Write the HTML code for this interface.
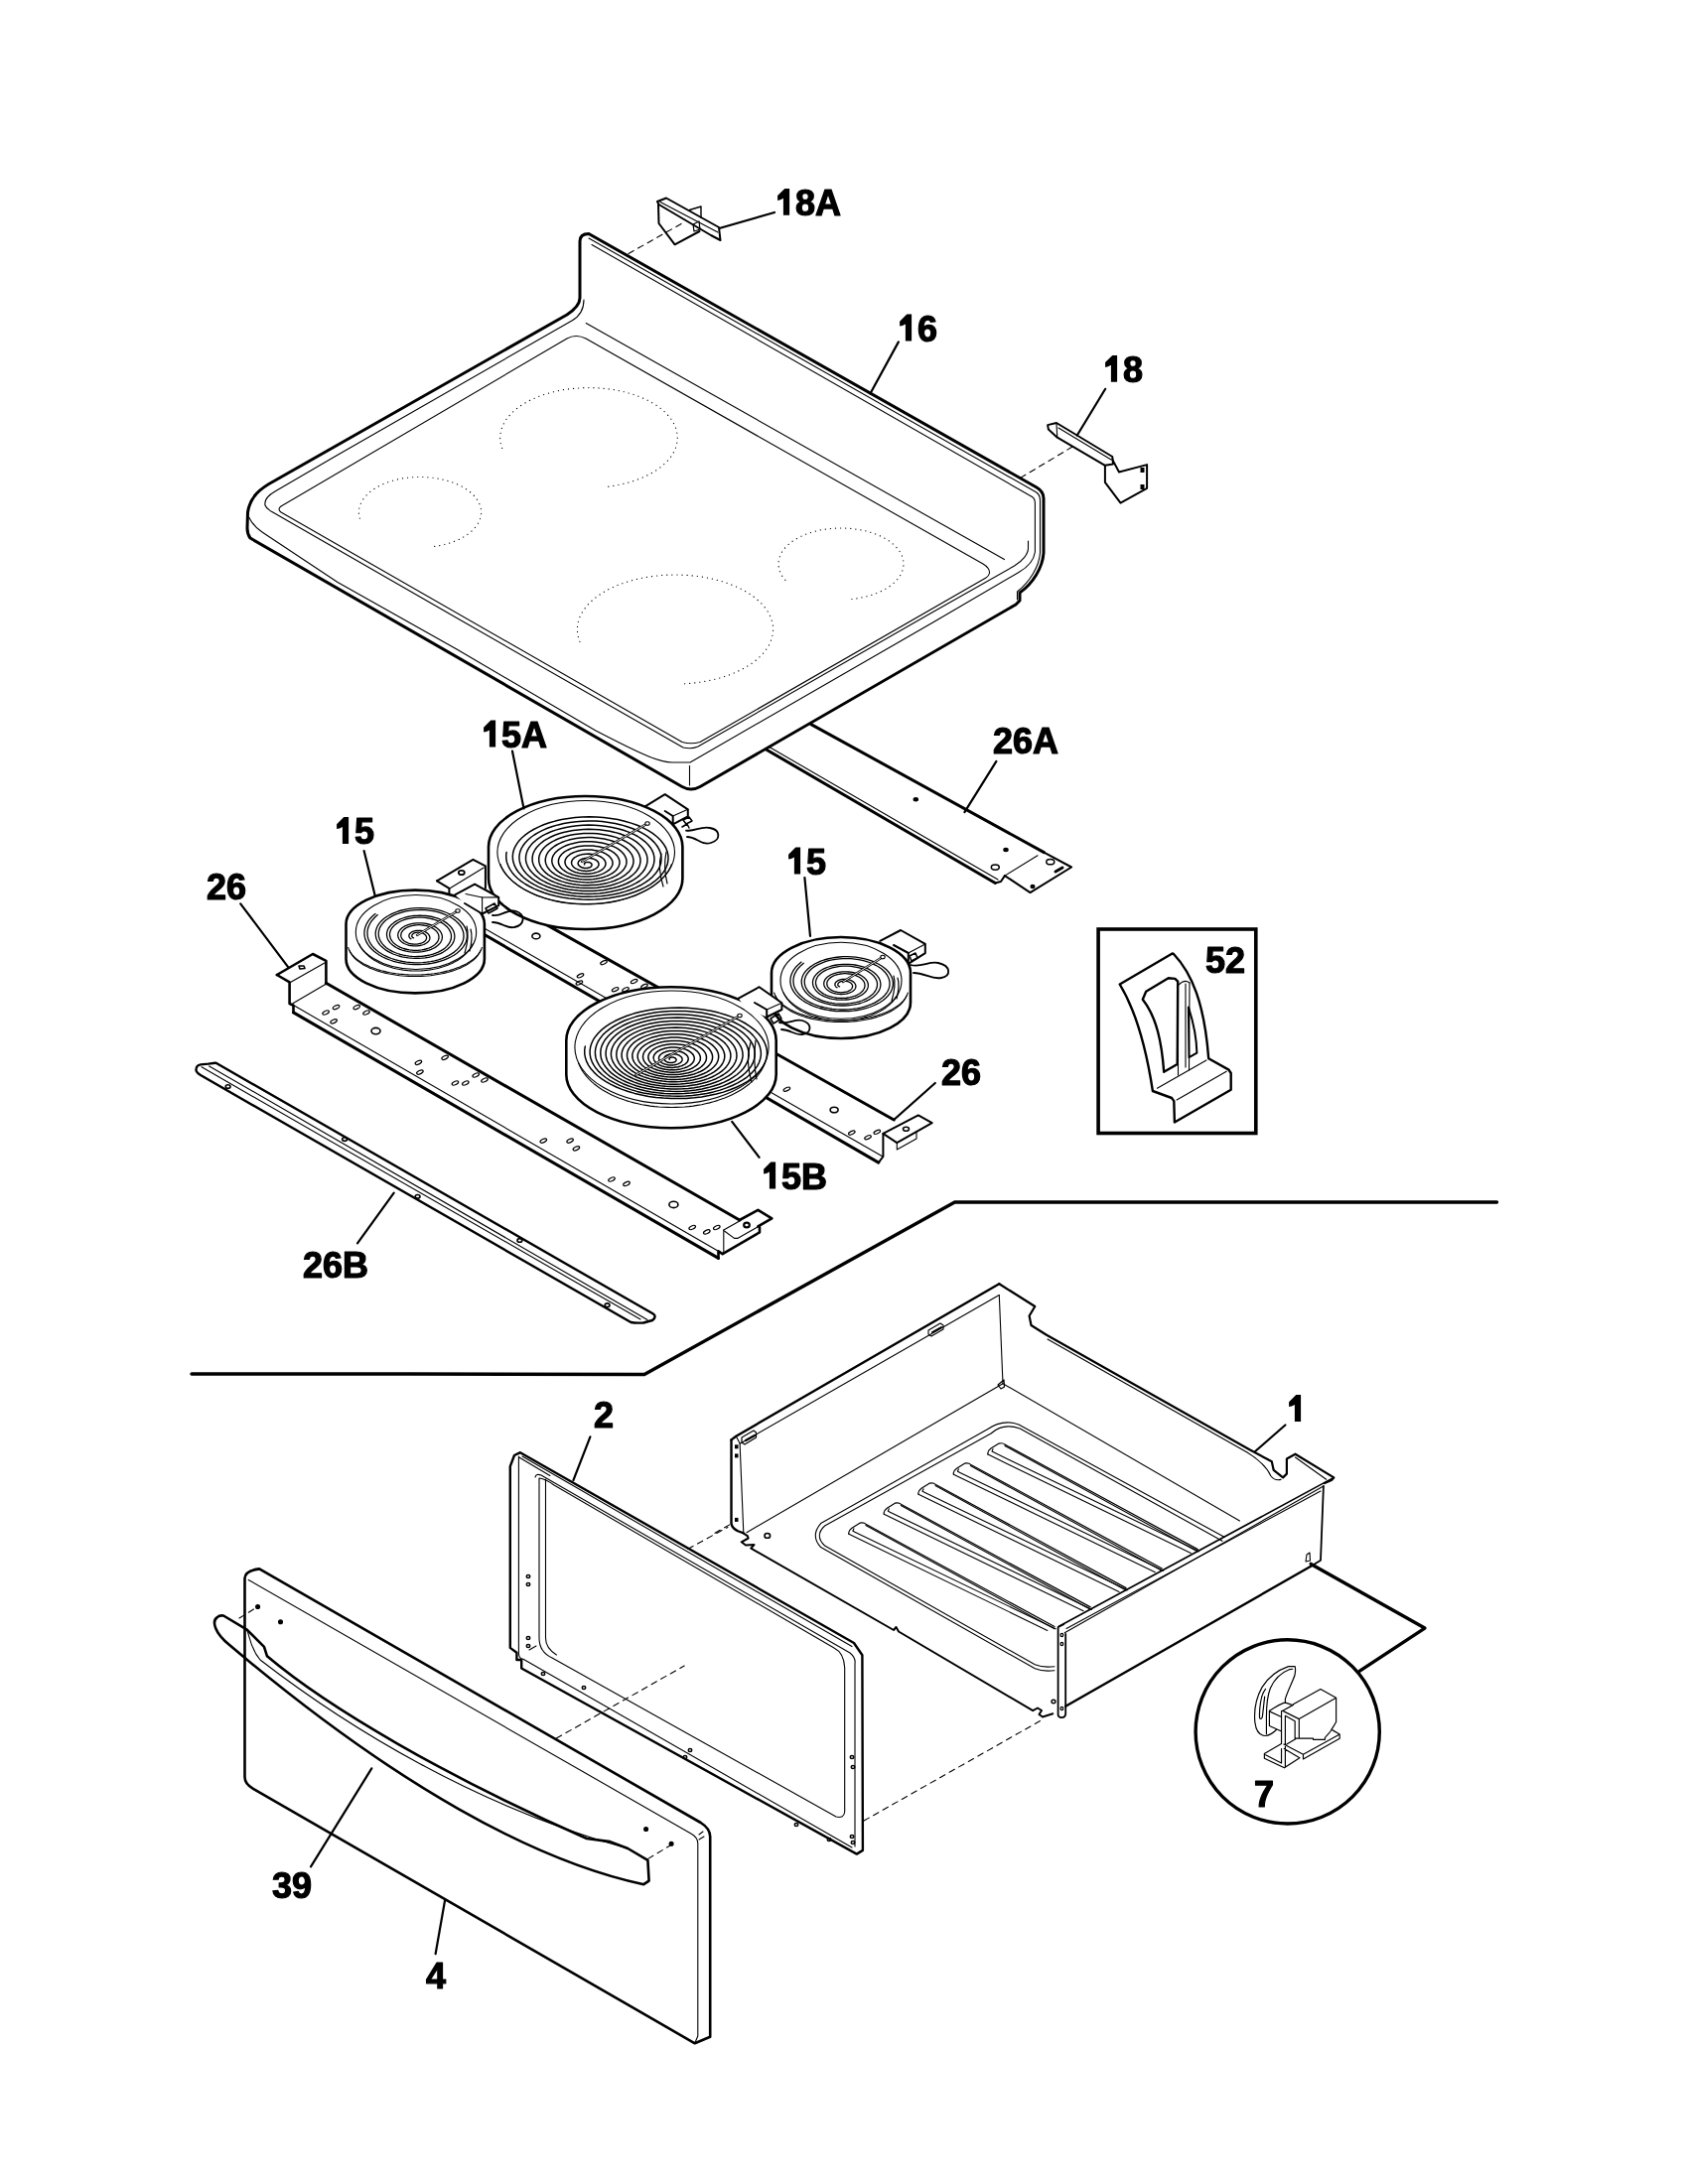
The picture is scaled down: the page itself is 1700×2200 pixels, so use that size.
<!DOCTYPE html><html><head><meta charset="utf-8"><style>html,body{margin:0;padding:0;background:#fff;}svg{display:block;will-change:transform;}text{font-family:"Liberation Sans",sans-serif;font-weight:bold;font-size:36px;fill:#000;stroke:#000;stroke-width:1.2px;}</style></head><body>
<svg width="1700" height="2200" viewBox="0 0 1700 2200">
<rect width="1700" height="2200" fill="#fff"/>
<g fill="none" stroke="#000" stroke-linecap="round" stroke-linejoin="round">
<line x1="816.8" y1="729.6" x2="1051.4" y2="858.6" stroke-width="3.0" />
<line x1="772.0" y1="755.2" x2="1002.3" y2="889.5" stroke-width="3.0" />
<line x1="774.0" y1="752.0" x2="1005.0" y2="886.0" stroke-width="1.1" />
<path d="M1002.3,889.5 L1008.0,888.0 L1011.9,882.1" stroke-width="2.0" />
<path d="M1011.9,882.1 L1037.5,899.1 L1079.1,873.5 L1051.4,858.6" stroke-width="2.0" />
<line x1="1011.9" y1="882.1" x2="1045.0" y2="861.8" stroke-width="1.1" />
<ellipse cx="922.3" cy="805.3" rx="2.0" ry="1.5" stroke-width="1.5" fill="#000"/>
<ellipse cx="1013.0" cy="856.0" rx="2.0" ry="1.5" stroke-width="1.5" fill="#000"/>
<ellipse cx="1002.3" cy="873.6" rx="4.0" ry="2.6" stroke-width="1.5" />
<ellipse cx="1057.8" cy="868.2" rx="4.0" ry="2.6" stroke-width="1.5" />
<path d="M1063.0,878.0 L1070.0,874.0" stroke-width="3" />
<ellipse cx="1040.0" cy="893.0" rx="1.8" ry="1.5" stroke-width="1.5" fill="#000"/>
<text x="1000.0" y="758.8">26A</text>
<line x1="1003.4" y1="766.9" x2="971.4" y2="818.1" stroke-width="2.2" />
<path d="M584,300 L584,243 Q584,235.5 593,235.5 L1044,491 Q1051,495 1051,502 L1051,557 C1050,572 1040,588 1027,597 L1027,605 L1023,609 L705,792.5 Q696,797.5 687,792.5 L252,542 Q249,538 249,532 L249.5,516 C252,500 262,492 277,484 L571,317 C580,311 584,305 584,300 Z" stroke-width="3.0" />
<path d="M593,240 L1043,495.5 Q1047.5,498 1047.5,504 L1047.5,557 C1046.5,571 1037,586 1024.5,596 L1024.5,604" stroke-width="1.1" />
<path d="M596,246.5 L1039.5,500.5 Q1042.4,502.5 1042.4,507 L1042.4,556 C1041,566 1034,572 1026,576.5 L940,626.7 L695,768 L677,768 C665,768 650,762 600,736 L460,654 L340,586.5 L264,536 Q255,530 250.7,521" stroke-width="1.1" />
<path d="M588,302 C588,312 583,319 576,323 L337,460 L277,495 C270,499 266,504 267,509 C268,512 270,513 273,515 L460,622.6 L688,753 Q696,755 703,752 L940,616.3 L1021.6,570 C1030,565 1035.5,558 1035.5,552.3 L1035.5,545" stroke-width="1.1" />
<line x1="590.2" y1="325.5" x2="1011.5" y2="563.6" stroke-width="1.1" />
<path d="M571,341 Q580,336 590,341 L990,568 Q996.6,572 996.6,577 Q996,580 993,582 L705,747.5 Q696,750 687,747.5 L283,516 Q279,513 283,510 Z" stroke-width="1.1" />
<line x1="694.5" y1="771.5" x2="694.5" y2="791.0" stroke-width="1.1" />
<path d="M362.3,522.2 L362.0,520.8 L361.7,519.4 L361.5,518.0 L361.4,516.7 L361.4,515.3 L361.5,513.9 L361.7,512.5 L362.0,511.1 L362.4,509.8 L362.8,508.4 L363.4,507.1 L364.0,505.7 L364.8,504.4 L365.6,503.1 L366.5,501.8 L367.5,500.6 L368.6,499.4 L369.8,498.1 L371.0,497.0 L372.3,495.8 L373.7,494.7 L375.2,493.6 L376.8,492.5 L378.4,491.5 L380.1,490.5 L381.8,489.6 L383.7,488.7 L385.5,487.8 L387.5,487.0 L389.5,486.2 L391.5,485.5 L393.6,484.8 L395.7,484.2 L397.9,483.6 L400.1,483.0 L402.3,482.6 L404.6,482.1 L406.9,481.7 L409.2,481.4 L411.6,481.1 L414.0,480.9 L416.3,480.7 L418.7,480.6 L421.1,480.5 L423.5,480.5 L425.9,480.5 L428.3,480.6 L430.7,480.8 L433.1,481.0 L435.5,481.2 L437.8,481.5 L440.1,481.9 L442.4,482.3 L444.7,482.8 L446.9,483.3 L449.1,483.8 L451.3,484.5 L453.4,485.1 L455.4,485.8 L457.4,486.6 L459.4,487.4 L461.3,488.2 L463.2,489.1 L465.0,490.0 L466.7,491.0 L468.3,492.0 L469.9,493.0 L471.5,494.1 L472.9,495.2 L474.3,496.3 L475.6,497.5 L476.8,498.7 L477.9,499.9 L478.9,501.1 L479.9,502.4 L480.8,503.7 L481.6,505.0 L482.3,506.3 L482.9,507.7 L483.4,509.0 L483.8,510.4 L484.2,511.8 L484.4,513.1 L484.5,514.5 L484.6,515.9 L484.6,517.3 L484.4,518.7 L484.2,520.0 L483.9,521.4 L483.5,522.8 L483.0,524.1 L482.4,525.5 L481.7,526.8 L480.9,528.1 L480.0,529.4 L479.1,530.7 L478.1,531.9 L476.9,533.1 L475.7,534.3 L474.5,535.5 L473.1,536.6 L471.7,537.8 L470.2,538.8 L468.6,539.9 L466.9,540.9 L465.2,541.9 L463.4,542.8 L461.6,543.7 L459.7,544.5 L457.7,545.3 L455.7,546.1 L453.7,546.8 L451.6,547.5 L449.4,548.1 L447.2,548.6 L445.0,549.2 L442.7,549.6 L440.5,550.0 L438.1,550.4 L435.8,550.7" stroke-width="1.2" stroke-dasharray="0.1 5" stroke-linecap="round"/>
<path d="M505.7,451.5 L505.0,449.5 L504.5,447.5 L504.1,445.6 L503.8,443.6 L503.7,441.6 L503.7,439.6 L503.9,437.6 L504.2,435.6 L504.7,433.6 L505.2,431.7 L506.0,429.7 L506.8,427.8 L507.8,425.9 L508.9,424.0 L510.2,422.1 L511.6,420.3 L513.1,418.5 L514.7,416.7 L516.5,415.0 L518.4,413.3 L520.4,411.7 L522.5,410.1 L524.7,408.5 L527.1,407.0 L529.5,405.6 L532.0,404.2 L534.6,402.8 L537.4,401.6 L540.2,400.4 L543.1,399.2 L546.0,398.1 L549.1,397.1 L552.2,396.2 L555.4,395.3 L558.6,394.5 L561.9,393.8 L565.2,393.1 L568.6,392.5 L572.0,392.0 L575.5,391.6 L578.9,391.2 L582.4,391.0 L585.9,390.8 L589.5,390.6 L593.0,390.6 L596.5,390.6 L600.1,390.8 L603.6,391.0 L607.1,391.2 L610.5,391.6 L614.0,392.0 L617.4,392.5 L620.8,393.1 L624.1,393.8 L627.4,394.5 L630.6,395.3 L633.8,396.2 L636.9,397.1 L640.0,398.1 L642.9,399.2 L645.8,400.4 L648.6,401.6 L651.4,402.8 L654.0,404.2 L656.5,405.6 L658.9,407.0 L661.3,408.5 L663.5,410.1 L665.6,411.7 L667.6,413.3 L669.5,415.0 L671.3,416.7 L672.9,418.5 L674.4,420.3 L675.8,422.1 L677.1,424.0 L678.2,425.9 L679.2,427.8 L680.0,429.7 L680.8,431.7 L681.3,433.6 L681.8,435.6 L682.1,437.6 L682.3,439.6 L682.3,441.6 L682.2,443.6 L681.9,445.6 L681.5,447.5 L681.0,449.5 L680.3,451.5 L679.5,453.4 L678.6,455.3 L677.5,457.2 L676.3,459.1 L675.0,461.0 L673.5,462.8 L671.9,464.6 L670.2,466.3 L668.4,468.0 L666.4,469.7 L664.4,471.3 L662.2,472.9 L659.9,474.4 L657.5,475.8 L655.0,477.3 L652.4,478.6 L649.8,479.9 L647.0,481.1 L644.1,482.3 L641.2,483.4 L638.2,484.5 L635.1,485.4 L632.0,486.4 L628.8,487.2 L625.5,487.9 L622.2,488.6 L618.8,489.2 L615.4,489.8 L612.0,490.2 L608.5,490.6" stroke-width="1.2" stroke-dasharray="0.1 5" stroke-linecap="round"/>
<path d="M790.9,584.3 L789.7,583.0 L788.7,581.6 L787.7,580.2 L786.9,578.8 L786.2,577.3 L785.5,575.9 L785.0,574.4 L784.6,572.9 L784.3,571.4 L784.1,569.9 L784.0,568.4 L784.0,566.9 L784.2,565.4 L784.4,563.9 L784.8,562.4 L785.2,561.0 L785.8,559.5 L786.5,558.0 L787.2,556.6 L788.1,555.2 L789.1,553.8 L790.2,552.4 L791.4,551.1 L792.7,549.8 L794.0,548.5 L795.5,547.3 L797.1,546.0 L798.7,544.9 L800.4,543.7 L802.3,542.7 L804.1,541.6 L806.1,540.6 L808.1,539.7 L810.3,538.8 L812.4,537.9 L814.6,537.1 L816.9,536.4 L819.3,535.7 L821.7,535.0 L824.1,534.5 L826.5,533.9 L829.1,533.5 L831.6,533.1 L834.2,532.8 L836.7,532.5 L839.3,532.3 L842.0,532.1 L844.6,532.0 L847.2,532.0 L849.8,532.0 L852.5,532.1 L855.1,532.3 L857.7,532.5 L860.3,532.8 L862.8,533.2 L865.3,533.6 L867.8,534.0 L870.3,534.6 L872.7,535.1 L875.1,535.8 L877.4,536.5 L879.7,537.2 L881.9,538.0 L884.1,538.9 L886.2,539.8 L888.2,540.8 L890.2,541.8 L892.0,542.8 L893.8,543.9 L895.6,545.1 L897.2,546.2 L898.7,547.5 L900.2,548.7 L901.6,550.0 L902.8,551.3 L904.0,552.7 L905.1,554.0 L906.0,555.4 L906.9,556.8 L907.7,558.3 L908.3,559.7 L908.9,561.2 L909.3,562.7 L909.6,564.2 L909.9,565.7 L910.0,567.2 L910.0,568.7 L909.9,570.2 L909.7,571.7 L909.3,573.2 L908.9,574.6 L908.4,576.1 L907.7,577.6 L907.0,579.0 L906.1,580.4 L905.2,581.8 L904.1,583.2 L902.9,584.6 L901.7,585.9 L900.3,587.2 L898.9,588.4 L897.3,589.6 L895.7,590.8 L894.0,592.0 L892.2,593.1 L890.4,594.1 L888.4,595.1 L886.4,596.1 L884.3,597.0 L882.2,597.9 L879.9,598.7 L877.7,599.4 L875.3,600.1 L873.0,600.8 L870.6,601.4 L868.1,601.9 L865.6,602.4 L863.1,602.8 L860.5,603.2 L857.9,603.5" stroke-width="1.2" stroke-dasharray="0.1 5" stroke-linecap="round"/>
<path d="M583.9,646.4 L583.1,644.2 L582.4,642.0 L581.9,639.7 L581.6,637.5 L581.4,635.3 L581.4,633.0 L581.6,630.8 L581.9,628.6 L582.4,626.3 L583.0,624.1 L583.8,621.9 L584.8,619.8 L585.9,617.6 L587.2,615.5 L588.6,613.4 L590.2,611.3 L591.9,609.3 L593.8,607.3 L595.8,605.4 L597.9,603.5 L600.2,601.7 L602.7,599.9 L605.2,598.2 L607.9,596.5 L610.7,594.9 L613.6,593.3 L616.6,591.9 L619.7,590.5 L623.0,589.1 L626.3,587.9 L629.7,586.7 L633.2,585.6 L636.8,584.6 L640.4,583.6 L644.1,582.8 L647.9,582.0 L651.7,581.3 L655.6,580.7 L659.5,580.2 L663.4,579.8 L667.4,579.4 L671.4,579.2 L675.4,579.1 L679.4,579.0 L683.4,579.0 L687.5,579.2 L691.4,579.4 L695.4,579.7 L699.4,580.1 L703.3,580.6 L707.2,581.1 L711.0,581.8 L714.8,582.5 L718.5,583.4 L722.2,584.3 L725.8,585.3 L729.3,586.4 L732.7,587.5 L736.1,588.8 L739.3,590.1 L742.5,591.5 L745.5,592.9 L748.5,594.4 L751.3,596.0 L754.0,597.7 L756.6,599.4 L759.1,601.2 L761.4,603.0 L763.6,604.9 L765.7,606.8 L767.6,608.7 L769.4,610.8 L771.0,612.8 L772.5,614.9 L773.8,617.0 L774.9,619.1 L775.9,621.3 L776.8,623.5 L777.5,625.7 L778.0,627.9 L778.4,630.2 L778.6,632.4 L778.6,634.6 L778.5,636.9 L778.2,639.1 L777.7,641.3 L777.1,643.6 L776.3,645.7 L775.4,647.9 L774.3,650.1 L773.0,652.2 L771.6,654.3 L770.1,656.4 L768.4,658.4 L766.5,660.4 L764.5,662.3 L762.4,664.2 L760.1,666.1 L757.7,667.9 L755.2,669.6 L752.5,671.3 L749.7,672.9 L746.8,674.4 L743.8,675.9 L740.7,677.3 L737.5,678.7 L734.2,680.0 L730.8,681.1 L727.3,682.3 L723.7,683.3 L720.1,684.2 L716.4,685.1 L712.6,685.9 L708.8,686.6 L705.0,687.2 L701.1,687.7 L697.1,688.2 L693.2,688.5 L689.2,688.8 L685.2,688.9" stroke-width="1.2" stroke-dasharray="0.1 5" stroke-linecap="round"/>
<path d="M913.30,316.60 L918.10,316.60 L918.10,343.50 L911.90,343.50 L911.90,326.40 L909.00,328.00 L906.10,328.60 L906.10,323.80 Z" fill="#000" stroke="none"/>
<text x="924.0" y="343.5">6</text>
<line x1="904.9" y1="344.4" x2="876.4" y2="396.5" stroke-width="2.2" />
<path d="M662.0,203.0 L671.0,199.5 L724.0,229.0 L725.5,242.0 L716.0,237.0 L663.5,206.0 Z" stroke-width="2.0" />
<line x1="665.0" y1="203.5" x2="723.0" y2="234.0" stroke-width="1.1" />
<path d="M663.0,206.0 L663.5,225.0 L679.6,246.3 L704.5,233.0" stroke-width="2.0" />
<path d="M694.5,211.5 L706.0,208.0 L706.0,219.0" stroke-width="1.4" />
<path d="M698.0,226.0 L704.0,223.0 L705.0,231.0 L699.0,233.0 Z" stroke-width="1.2" />
<line x1="633.0" y1="255.5" x2="690.4" y2="223.0" stroke-width="1.1" stroke-dasharray="6 5"/>
<path d="M790.30,189.90 L795.10,189.90 L795.10,216.80 L788.90,216.80 L788.90,199.70 L786.00,201.30 L783.10,201.90 L783.10,197.10 Z" fill="#000" stroke="none"/>
<text x="801.0" y="216.8">8A</text>
<line x1="725.2" y1="229.8" x2="780.0" y2="214.0" stroke-width="2.2" />
<path d="M1055.1,428.1 L1064.0,426.0 L1120.3,460.0 L1121.0,467.4 L1112.9,468.8 L1064.8,440.7 L1055.9,432.6 Z" stroke-width="2.0" />
<line x1="1064.0" y1="427.0" x2="1064.8" y2="440.7" stroke-width="1.1" />
<line x1="1066.0" y1="431.0" x2="1119.0" y2="463.0" stroke-width="1.1" />
<path d="M1112.9,468.8 L1112.9,485.9 L1128.5,506.6 L1155.1,491.8 L1155.1,468.1 L1127.0,475.5 L1120.3,462.9" stroke-width="2.0" />
<rect x="1148.5" y="471" width="4" height="5" fill="#000" stroke="none"/>
<rect x="1148.5" y="488" width="4" height="5" fill="#000" stroke="none"/>
<line x1="1027.7" y1="481.4" x2="1079.6" y2="450.3" stroke-width="1.1" stroke-dasharray="6 5"/>
<path d="M1120.30,357.90 L1125.10,357.90 L1125.10,384.80 L1118.90,384.80 L1118.90,367.70 L1116.00,369.30 L1113.10,369.90 L1113.10,365.10 Z" fill="#000" stroke="none"/>
<text x="1131.0" y="384.8">8</text>
<line x1="1113.2" y1="391.8" x2="1084.8" y2="438.5" stroke-width="2.2" />
<path d="M440.0,887.3 L476.4,865.8 L488.9,872.4 L488.9,894.8" stroke-width="2.0" />
<path d="M440.0,887.3 L452.4,894.8 L452.4,900.6" stroke-width="2.0" />
<line x1="453.2" y1="894.8" x2="487.2" y2="874.0" stroke-width="1.1" />
<ellipse cx="464.8" cy="879.0" rx="3.0" ry="2.2" stroke-width="1.8" />
<line x1="488.9" y1="897.0" x2="900.2" y2="1128.0" stroke-width="3.0" />
<line x1="452.4" y1="921.0" x2="884.8" y2="1171.1" stroke-width="3.0" />
<line x1="458.0" y1="918.0" x2="889.0" y2="1165.0" stroke-width="1.1" />
<path d="M889.4,1141.9 L924.8,1123.4 L938.7,1131.1 L903.3,1151.1 L889.4,1141.9" stroke-width="2.0" />
<path d="M889.4,1141.9 L889.4,1165.0 L884.8,1171.1" stroke-width="2.0" />
<path d="M903.3,1151.1 L903.3,1158.0 L923.0,1147.0 L923.0,1140.0" stroke-width="1.1" />
<ellipse cx="912.5" cy="1137.2" rx="3.0" ry="2.0" stroke-width="1.6" />
<ellipse cx="539.9" cy="942.9" rx="4.0" ry="2.8" stroke-width="1.6" />
<ellipse cx="584.5" cy="982.8" rx="3.5" ry="1.6" stroke-width="1.2" transform="rotate(-25 584.5 982.8)"/>
<ellipse cx="608.0" cy="969.6" rx="3.5" ry="1.6" stroke-width="1.2" transform="rotate(-25 608.0 969.6)"/>
<ellipse cx="583.4" cy="990.0" rx="3.5" ry="1.6" stroke-width="1.2" transform="rotate(-25 583.4 990.0)"/>
<ellipse cx="638.6" cy="988.5" rx="3.5" ry="1.6" stroke-width="1.2" transform="rotate(-25 638.6 988.5)"/>
<ellipse cx="619.6" cy="996.7" rx="3.5" ry="1.6" stroke-width="1.2" transform="rotate(-25 619.6 996.7)"/>
<ellipse cx="630.0" cy="996.7" rx="3.5" ry="1.6" stroke-width="1.2" transform="rotate(-25 630.0 996.7)"/>
<ellipse cx="649.0" cy="993.3" rx="3.5" ry="1.6" stroke-width="1.2" transform="rotate(-25 649.0 993.3)"/>
<ellipse cx="792.4" cy="1097.2" rx="3.5" ry="1.6" stroke-width="1.2" transform="rotate(-25 792.4 1097.2)"/>
<ellipse cx="840.1" cy="1118.0" rx="4.0" ry="2.8" stroke-width="1.6" />
<ellipse cx="857.8" cy="1141.1" rx="3.5" ry="1.6" stroke-width="1.2" transform="rotate(-25 857.8 1141.1)"/>
<ellipse cx="874.0" cy="1145.7" rx="3.5" ry="1.6" stroke-width="1.2" transform="rotate(-25 874.0 1145.7)"/>
<ellipse cx="883.3" cy="1140.3" rx="3.5" ry="1.6" stroke-width="1.2" transform="rotate(-25 883.3 1140.3)"/>
<text x="948.0" y="1093.0">26</text>
<line x1="941.8" y1="1091.0" x2="900.2" y2="1128.0" stroke-width="2.2" />
<path d="M649.3,812.6 L669.7,800.2 L692.8,815.3 L692.8,822.4 L677.7,830.4 L677.7,822.0 L669.7,817.0" stroke-width="2.0" />
<line x1="677.7" y1="822.0" x2="692.8" y2="815.3" stroke-width="1.1" />
<path d="M691,836.6 C700,838 705,832 715,834 C726,836 726,846 716,849 C706,852 702,843 692,843" stroke-width="1.8" />
<path d="M688.0,826.0 L694.0,823.0 L697.0,827.0 L691.0,830.0 Z" stroke-width="1.5" />
<path d="M687.0,833.0 L692.0,830.0 L694.0,834.0" stroke-width="1.5" />
<path d="M492.0,853.0 A97.7,51 0 0 1 687.4,853.0 L687.4,885.0 A97.7,51 0 0 1 492.0,885.0 Z" fill="#fff" stroke="none"/>
<path d="M492.0,885.0 L492.0,853.0 A97.7,51 0 0 1 687.4,853.0 L687.4,885.0 A97.7,51 0 0 1 492.0,885.0" stroke-width="2.6" />
<ellipse cx="590.2" cy="858.5" rx="89.3" ry="52.0" stroke-width="1.1" />
<path d="M676.3,870.6 L675.4,872.9 L674.3,875.1 L673.0,877.3 L671.6,879.4 L670.0,881.6 L668.2,883.6 L666.3,885.7 L664.2,887.6 L661.9,889.5 L659.5,891.4 L657.0,893.2 L654.3,894.9 L651.6,896.6 L648.6,898.1 L645.6,899.6 L642.4,901.0 L639.2,902.4 L635.8,903.6 L632.3,904.8 L628.8,905.8 L625.1,906.8 L621.4,907.7 L617.7,908.4 L613.9,909.1 L610.0,909.7 L606.1,910.2 L602.1,910.5 L598.2,910.8 L594.2,910.9 L590.2,911.0 L586.2,910.9 L582.2,910.8 L578.3,910.5 L574.3,910.2 L570.4,909.7 L566.5,909.1 L562.7,908.4 L559.0,907.7 L555.3,906.8 L551.6,905.8 L548.1,904.8 L544.6,903.6 L541.2,902.4 L538.0,901.0 L534.8,899.6 L531.8,898.1 L528.8,896.6 L526.1,894.9 L523.4,893.2 L520.9,891.4 L518.5,889.5 L516.2,887.6 L514.1,885.7 L512.2,883.6 L510.4,881.6 L508.8,879.4 L507.4,877.3 L506.1,875.1 L505.0,872.9 L504.1,870.6" stroke-width="1.1" />
<path d="M588.7,870.8 L588.6,870.6 L588.6,870.5 L588.5,870.3 L588.5,870.2 L588.5,870.0 L588.6,869.8 L588.6,869.7 L588.7,869.5 L588.8,869.4 L589.0,869.2 L589.1,869.1 L589.3,868.9 L589.6,868.8 L589.8,868.7 L590.1,868.6 L590.4,868.5 L590.7,868.4 L591.1,868.4 L591.5,868.4 L591.8,868.4 L592.2,868.4 L592.6,868.4 L593.0,868.5 L593.4,868.6 L593.7,868.7 L594.1,868.9 L594.5,869.1 L594.8,869.2 L595.1,869.5 L595.3,869.7 L595.6,869.9 L595.7,870.2 L595.9,870.5 L596.0,870.8 L596.0,871.1 L596.0,871.4 L596.0,871.7 L595.9,872.0 L595.7,872.3 L595.5,872.6 L595.3,872.8 L595.0,873.1 L594.7,873.3 L594.3,873.6 L593.9,873.8 L593.4,873.9 L593.0,874.1 L592.4,874.2 L591.9,874.3 L591.4,874.4 L590.8,874.5 L590.2,874.5 L589.6,874.5 L589.1,874.5 L588.5,874.4 L587.9,874.3 L587.3,874.2 L586.8,874.0 L586.2,873.9 L585.7,873.7 L585.2,873.5 L584.8,873.2 L584.3,873.0 L583.9,872.7 L583.5,872.4 L583.2,872.0 L582.9,871.7 L582.6,871.3 L582.4,870.9 L582.3,870.6 L582.2,870.2 L582.1,869.7 L582.1,869.3 L582.2,868.9 L582.4,868.5 L582.6,868.0 L582.8,867.6 L583.2,867.2 L583.6,866.8 L584.1,866.4 L584.6,866.1 L585.2,865.7 L585.9,865.4 L586.6,865.1 L587.4,864.9 L588.2,864.7 L589.1,864.5 L590.0,864.4 L591.0,864.3 L592.0,864.3 L593.0,864.3 L594.0,864.4 L594.9,864.5 L595.9,864.7 L596.9,864.9 L597.8,865.2 L598.6,865.6 L599.5,866.0 L600.2,866.4 L600.9,866.9 L601.5,867.4 L602.0,867.9 L602.4,868.5 L602.7,869.1 L602.9,869.7 L603.0,870.3 L603.0,871.0 L602.9,871.6 L602.6,872.2 L602.3,872.8 L601.9,873.4 L601.3,873.9 L600.7,874.5 L600.0,875.0 L599.2,875.4 L598.4,875.8 L597.4,876.2 L596.5,876.5 L595.4,876.8 L594.4,877.0 L593.3,877.2 L592.1,877.3 L591.0,877.4 L589.9,877.4 L588.7,877.3 L587.6,877.2 L586.5,877.1 L585.4,876.9 L584.3,876.6 L583.3,876.4 L582.3,876.0 L581.4,875.7 L580.5,875.2 L579.7,874.8 L578.9,874.3 L578.2,873.8 L577.6,873.2 L577.1,872.7 L576.6,872.0 L576.2,871.4 L575.9,870.8 L575.7,870.1 L575.6,869.4 L575.6,868.7 L575.7,868.0 L575.9,867.3 L576.2,866.6 L576.6,865.9 L577.1,865.2 L577.8,864.6 L578.5,863.9 L579.4,863.3 L580.4,862.8 L581.4,862.2 L582.6,861.8 L583.9,861.3 L585.2,861.0 L586.6,860.6 L588.1,860.4 L589.7,860.2 L591.2,860.2 L592.8,860.1 L594.5,860.2 L596.1,860.4 L597.7,860.6 L599.2,860.9 L600.7,861.3 L602.2,861.8 L603.5,862.4 L604.8,863.0 L605.9,863.7 L607.0,864.5 L607.9,865.3 L608.6,866.2 L609.2,867.0 L609.6,868.0 L609.9,868.9 L610.0,869.9 L609.9,870.8 L609.7,871.8 L609.3,872.7 L608.7,873.6 L608.0,874.5 L607.1,875.3 L606.1,876.1 L605.0,876.8 L603.8,877.5 L602.4,878.1 L601.0,878.6 L599.5,879.1 L597.9,879.5 L596.3,879.8 L594.6,880.0 L592.9,880.2 L591.2,880.2 L589.5,880.2 L587.8,880.1 L586.1,880.0 L584.5,879.8 L582.9,879.5 L581.3,879.1 L579.8,878.7 L578.4,878.2 L577.1,877.6 L575.8,877.0 L574.6,876.4 L573.5,875.7 L572.6,874.9 L571.7,874.1 L570.9,873.3 L570.3,872.4 L569.8,871.5 L569.4,870.6 L569.1,869.6 L569.0,868.7 L569.0,867.7 L569.2,866.7 L569.5,865.7 L570.0,864.8 L570.6,863.8 L571.4,862.9 L572.4,862.0 L573.5,861.1 L574.7,860.2 L576.1,859.5 L577.7,858.7 L579.3,858.1 L581.1,857.5 L583.0,857.0 L585.0,856.6 L587.1,856.3 L589.3,856.1 L591.5,856.0 L593.7,856.0 L596.0,856.1 L598.2,856.4 L600.4,856.7 L602.5,857.2 L604.6,857.8 L606.6,858.4 L608.4,859.2 L610.1,860.1 L611.7,861.1 L613.1,862.1 L614.2,863.2 L615.2,864.4 L616.0,865.6 L616.6,866.8 L616.9,868.1 L617.0,869.4 L616.9,870.7 L616.5,872.0 L615.9,873.2 L615.1,874.4 L614.1,875.6 L612.9,876.7 L611.6,877.7 L610.0,878.7 L608.3,879.6 L606.5,880.4 L604.5,881.1 L602.5,881.7 L600.4,882.2 L598.2,882.6 L595.9,882.8 L593.7,883.0 L591.4,883.1 L589.1,883.1 L586.8,883.0 L584.6,882.8 L582.5,882.4 L580.3,882.0 L578.3,881.6 L576.4,881.0 L574.5,880.3 L572.7,879.6 L571.1,878.8 L569.6,877.9 L568.2,877.0 L566.9,876.0 L565.8,875.0 L564.8,873.9 L564.0,872.8 L563.3,871.6 L562.8,870.4 L562.5,869.2 L562.4,867.9 L562.5,866.7 L562.7,865.4 L563.2,864.2 L563.8,862.9 L564.7,861.7 L565.7,860.5 L567.0,859.3 L568.4,858.2 L570.1,857.2 L571.9,856.2 L573.9,855.3 L576.1,854.4 L578.4,853.7 L580.9,853.1 L583.5,852.6 L586.1,852.2 L588.9,852.0 L591.7,851.9 L594.6,851.9 L597.5,852.1 L600.3,852.4 L603.1,852.8 L605.9,853.4 L608.5,854.2 L611.0,855.0 L613.3,856.0 L615.5,857.2 L617.4,858.4 L619.2,859.7 L620.6,861.1 L621.9,862.6 L622.8,864.1 L623.5,865.7 L623.9,867.3 L624.0,869.0 L623.8,870.6 L623.3,872.2 L622.6,873.7 L621.6,875.2 L620.3,876.7 L618.7,878.1 L617.0,879.4 L615.0,880.6 L612.9,881.7 L610.6,882.6 L608.1,883.5 L605.5,884.2 L602.8,884.8 L600.1,885.3 L597.3,885.7 L594.4,885.9 L591.6,886.0 L588.7,886.0 L585.9,885.8 L583.2,885.5 L580.5,885.1 L577.8,884.6 L575.3,884.0 L572.9,883.3 L570.6,882.5 L568.4,881.6 L566.4,880.6 L564.5,879.5 L562.8,878.4 L561.2,877.1 L559.9,875.9 L558.7,874.5 L557.7,873.1 L556.9,871.7 L556.3,870.2 L556.0,868.7 L555.8,867.2 L555.9,865.7 L556.3,864.1 L556.8,862.6 L557.6,861.1 L558.7,859.6 L560.0,858.1 L561.6,856.7 L563.4,855.3 L565.4,854.1 L567.7,852.9 L570.1,851.8 L572.8,850.8 L575.7,849.9 L578.7,849.2 L581.9,848.6 L585.2,848.1 L588.5,847.8 L592.0,847.7 L595.5,847.8 L599.0,848.0 L602.5,848.4 L605.9,848.9 L609.2,849.7 L612.4,850.6 L615.4,851.7 L618.2,852.9 L620.8,854.2 L623.2,855.7 L625.3,857.3 L627.0,859.0 L628.5,860.8 L629.6,862.7 L630.5,864.6 L630.9,866.5 L631.0,868.5 L630.8,870.4 L630.2,872.4 L629.2,874.2 L628.0,876.1 L626.4,877.8 L624.5,879.4 L622.4,881.0 L620.0,882.4 L617.4,883.7 L614.6,884.9 L611.7,885.9 L608.5,886.8 L605.3,887.5 L602.0,888.1 L598.6,888.5 L595.2,888.8 L591.8,888.9 L588.4,888.8 L585.0,888.6 L581.7,888.3 L578.4,887.8 L575.3,887.2 L572.3,886.5 L569.4,885.6 L566.7,884.6 L564.1,883.5 L561.7,882.4 L559.4,881.1 L557.4,879.7 L555.6,878.3 L553.9,876.7 L552.5,875.1 L551.4,873.5 L550.5,871.8 L549.8,870.0 L549.4,868.3 L549.2,866.5 L549.4,864.6 L549.8,862.8 L550.5,861.0 L551.5,859.2 L552.7,857.4 L554.3,855.7 L556.2,854.1 L558.3,852.5 L560.7,851.0 L563.4,849.6 L566.4,848.3 L569.5,847.1 L572.9,846.1 L576.5,845.2 L580.3,844.6 L584.2,844.0 L588.2,843.7 L592.2,843.6 L596.4,843.6 L600.5,843.9 L604.6,844.4 L608.6,845.1 L612.5,845.9 L616.2,847.0 L619.8,848.3 L623.1,849.7 L626.2,851.3 L628.9,853.1 L631.3,854.9 L633.4,857.0 L635.1,859.1 L636.5,861.2 L637.4,863.5 L637.9,865.7 L638.0,868.0 L637.7,870.3 L637.0,872.6 L635.9,874.7 L634.4,876.9 L632.5,878.9 L630.3,880.8 L627.8,882.6 L625.0,884.3 L622.0,885.8 L618.7,887.2 L615.2,888.4 L611.6,889.4 L607.8,890.2 L603.9,890.9 L599.9,891.4 L596.0,891.6 L592.0,891.8 L588.0,891.7 L584.1,891.5 L580.2,891.1 L576.4,890.5 L572.8,889.8 L569.3,888.9 L565.9,887.9 L562.7,886.8 L559.7,885.5 L556.9,884.1 L554.4,882.6 L552.0,881.1 L549.9,879.4 L548.0,877.6 L546.4,875.8 L545.1,873.8 L544.0,871.9 L543.3,869.9 L542.8,867.8 L542.7,865.7 L542.8,863.6 L543.3,861.5 L544.1,859.4 L545.3,857.4 L546.8,855.3 L548.6,853.3 L550.8,851.4 L553.3,849.6 L556.1,847.9 L559.2,846.3 L562.6,844.8 L566.3,843.5 L570.2,842.3 L574.3,841.3 L578.7,840.5 L583.2,839.9 L587.8,839.6 L592.5,839.4 L597.3,839.5 L602.0,839.8 L606.7,840.4 L611.3,841.2 L615.8,842.2 L620.1,843.4 L624.2,844.9 L628.0,846.5 L631.5,848.4 L634.7,850.4 L637.4,852.6 L639.8,854.9 L641.8,857.3 L643.3,859.8 L644.3,862.4 L644.9,865.0 L645.0,867.6 L644.6,870.2 L643.8,872.8 L642.5,875.3 L640.8,877.7 L638.7,880.0 L636.1,882.2 L633.3,884.3 L630.0,886.2 L626.5,887.9 L622.8,889.4 L618.8,890.8 L614.6,892.0 L610.2,892.9 L605.8,893.6 L601.3,894.2 L596.7,894.5 L592.1,894.6 L587.6,894.6 L583.1,894.3 L578.7,893.8 L574.4,893.2 L570.3,892.4 L566.3,891.4 L562.4,890.2 L558.8,888.9 L555.4,887.5 L552.2,885.9 L549.3,884.2 L546.6,882.4 L544.2,880.5 L542.1,878.5 L540.3,876.4 L538.8,874.2 L537.6,872.0 L536.7,869.7 L536.2,867.3 L536.1,865.0 L536.3,862.6 L536.8,860.2 L537.8,857.8 L539.1,855.5 L540.8,853.2 L542.9,851.0 L545.4,848.8 L548.2,846.7 L551.4,844.8 L554.9,843.0 L558.8,841.3 L563.0,839.8 L567.4,838.5 L572.1,837.4 L577.1,836.5 L582.2,835.9 L587.4,835.4 L592.8,835.3 L598.1,835.4 L603.5,835.7 L608.8,836.4 L614.1,837.3 L619.1,838.4 L624.0,839.8 L628.6,841.5 L632.9,843.4 L636.8,845.4 L640.4,847.7 L643.5,850.2 L646.2,852.8 L648.4,855.5 L650.1,858.3 L651.3,861.2 L651.9,864.2 L652.0,867.1 L651.6,870.1 L650.6,872.9 L649.2,875.8 L647.2,878.5 L644.8,881.1 L641.9,883.6 L638.7,885.9 L635.0,888.0 L631.1,890.0 L626.8,891.7 L622.3,893.2 L617.6,894.5 L612.7,895.6 L607.7,896.4 L602.6,897.0 L597.5,897.4 L592.3,897.5 L587.2,897.4 L582.2,897.1 L577.2,896.6 L572.4,895.9 L567.7,894.9 L563.3,893.8 L559.0,892.5 L554.9,891.1 L551.1,889.5 L547.5,887.7 L544.2,885.8 L541.2,883.7 L538.6,881.6 L536.2,879.3 L534.2,877.0 L532.5,874.6 L531.2,872.1 L530.2,869.5 L529.6,866.9 L529.5,864.2 L529.7,861.6 L530.4,858.9 L531.4,856.3 L532.9,853.7 L534.9,851.1 L537.2,848.6 L540.0,846.2 L543.2,843.9 L546.7,841.7 L550.7,839.7 L555.0,837.8 L559.7,836.1 L564.7,834.7 L570.0,833.5 L575.5,832.5 L581.2,831.8 L587.0,831.3 L593.0,831.1 L599.0,831.3 L605.0,831.7 L611.0,832.4 L616.8,833.4 L622.4,834.7 L627.9,836.2 L633.0,838.1 L637.8,840.2 L642.2,842.5 L646.1,845.1 L649.6,847.8 L652.6,850.7 L655.0,853.7 L656.9,856.9 L658.2,860.1 L658.9,863.4 L659.0,866.7 L658.5,869.9 L657.5,873.1 L655.8,876.3 L653.6,879.3 L650.9,882.2 L647.7,885.0 L644.1,887.5 L640.1,889.9 L635.6,892.1 L630.9,894.0 L625.9,895.7 L620.6,897.1 L615.2,898.3 L609.6,899.2 L604.0,899.9 L598.2,900.3 L592.5,900.4 L586.9,900.3 L581.3,899.9 L575.8,899.4 L570.4,898.5 L565.2,897.5 L560.2,896.3 L555.5,894.8 L551.0,893.2 L546.8,891.4 L542.8,889.5 L539.2,887.3 L535.9,885.1 L532.9,882.7 L530.3,880.2 L528.0,877.6 L526.2,874.9 L524.7,872.2 L523.7,869.3 L523.1,866.4 L522.9,863.5 L523.2,860.6 L523.9,857.6 L525.1,854.7 L526.8,851.8 L528.9,849.0 L531.5,846.2 L534.6,843.5 L538.1,841.0 L542.1,838.6 L546.5,836.4 L551.3,834.3 L556.4,832.5 L562.0,830.9 L567.8,829.5 L573.9,828.5 L580.2,827.7 L586.7,827.2 L593.3,827.0 L599.9,827.1 L606.5,827.6 L613.1,828.4 L619.5,829.5 L625.7,830.9 L631.7,832.7 L637.4,834.7 L642.7,837.0 L647.5,839.6 L651.9,842.4 L655.7,845.4 L659.0,848.6 L661.7,852.0 L663.7,855.4 L665.2,859.0 L665.9,862.6 L666.0,866.2 L665.5,869.8 L664.3,873.3 L662.5,876.8 L660.1,880.1 L657.1,883.3 L653.5,886.3 L649.5,889.2 L645.1,891.8 L640.2,894.1 L635.0,896.2 L629.4,898.1 L623.6,899.7 L617.7,901.0 L611.5,902.0 L605.3,902.7 L599.0,903.1 L592.7,903.3 L586.5,903.2 L580.3,902.8 L574.3,902.1 L568.4,901.2 L562.7,900.1 L557.2,898.7 L552.0,897.2 L547.1,895.4 L542.4,893.4 L538.1,891.2 L534.1,888.9 L530.5,886.4 L527.2,883.8 L524.4,881.1 L521.9,878.2 L519.9,875.3 L518.3,872.2 L517.2,869.1 L516.5,866.0 L516.3,862.8 L516.6,859.5 L517.4,856.3 L518.7,853.1 L520.6,849.9 L522.9,846.8 L525.8,843.8 L529.2,840.9 L533.0,838.1 L537.4,835.5 L542.2,833.1 L547.5,830.8 L553.2,828.8 L559.2,827.1 L565.6,825.6 L572.3,824.4 L579.2,823.6 L586.3,823.0 L593.5,822.8 L600.8,823.0 L608.0,823.5 L615.2,824.4 L622.2,825.6 L629.1,827.2 L635.6,829.1 L641.8,831.3 L647.6,833.8 L652.9,836.7 L657.6,839.7 L661.8,843.0 L665.4,846.5 L668.3,850.2 L670.6,854.0 L672.1,857.9 L672.9,861.8 L673.0,865.7 L672.4,869.7 L671.1,873.5 L669.1,877.3 L666.5,880.9 L663.2,884.4 L659.4,887.7 L655.0,890.8 L650.1,893.6 L644.7,896.2 L639.0,898.5 L633.0,900.5 L626.7,902.2 L620.1,903.6 L613.4,904.7 L606.6,905.5 L599.8,906.0 L592.9,906.2 L586.1,906.0 L579.4,905.6 L572.8,904.9 L566.4,903.9 L560.2,902.7 L554.2,901.2 L548.5,899.5 L543.2,897.5 L538.1,895.4 L533.4,893.0 L529.0,890.5 L525.1,887.8 L521.5,885.0 L518.4,882.0 L515.8,878.9 L513.6,875.6 L511.9,872.3 L510.6,869.0 L509.9,865.5 L509.7,862.0 L510.1,858.5" stroke-width="1.5" />
<path d="M668,893 C664,880 663,870 666,860 M672,890 C669,878 669,868 671,858" stroke-width="1.2" />
<line x1="586.0" y1="868.0" x2="652.0" y2="829.5" stroke-width="2.4" />
<line x1="586.0" y1="868.0" x2="652.0" y2="829.5" stroke-width="0.9" stroke="#fff"/>
<ellipse cx="652.0" cy="829.5" rx="2.2" ry="1.8" stroke-width="1.1" fill="#fff"/>
<path d="M494.30,725.60 L499.10,725.60 L499.10,752.50 L492.90,752.50 L492.90,735.40 L490.00,737.00 L487.10,737.60 L487.10,732.80 Z" fill="#000" stroke="none"/>
<text x="505.0" y="752.5">5A</text>
<line x1="516.0" y1="756.7" x2="527.5" y2="814.4" stroke-width="2.2" />
<path d="M348.5,931.0 A69.7,34.4 0 0 1 487.9,931.0 L487.9,966.0 A69.7,34.4 0 0 1 348.5,966.0 Z" fill="#fff" stroke="none"/>
<path d="M348.5,966.0 L348.5,931.0 A69.7,34.4 0 0 1 487.9,931.0 L487.9,966.0 A69.7,34.4 0 0 1 348.5,966.0" stroke-width="2.6" />
<ellipse cx="419.0" cy="939.0" rx="60.7" ry="37.5" stroke-width="1.1" />
<path d="M476.5,950.6 L475.7,952.1 L474.9,953.7 L474.0,955.2 L472.9,956.6 L471.8,958.1 L470.5,959.5 L469.2,960.9 L467.7,962.2 L466.2,963.5 L464.6,964.8 L462.9,966.0 L461.1,967.2 L459.2,968.3 L457.2,969.3 L455.2,970.4 L453.1,971.3 L451.0,972.2 L448.8,973.0 L446.5,973.8 L444.1,974.5 L441.8,975.2 L439.4,975.8 L436.9,976.3 L434.4,976.7 L431.9,977.1 L429.3,977.4 L426.8,977.7 L424.2,977.9 L421.6,978.0 L419.0,978.0 L416.4,978.0 L413.8,977.9 L411.2,977.7 L408.7,977.4 L406.1,977.1 L403.6,976.7 L401.1,976.3 L398.6,975.8 L396.2,975.2 L393.9,974.5 L391.5,973.8 L389.2,973.0 L387.0,972.2 L384.9,971.3 L382.8,970.4 L380.8,969.3 L378.8,968.3 L376.9,967.2 L375.1,966.0 L373.4,964.8 L371.8,963.5 L370.3,962.2 L368.8,960.9 L367.5,959.5 L366.2,958.1 L365.1,956.6 L364.0,955.2 L363.1,953.7 L362.3,952.1 L361.5,950.6" stroke-width="1.1" />
<path d="M485.3,954.5 L484.8,956.0 L484.1,957.5 L483.3,958.9 L482.3,960.4 L481.2,961.8 L479.9,963.2 L478.5,964.6 L477.0,965.9 L475.3,967.2 L473.5,968.5 L471.5,969.7 L469.5,970.9 L467.3,972.0 L465.0,973.1 L462.6,974.2 L460.1,975.1 L457.5,976.0 L454.8,976.9 L452.1,977.7 L449.2,978.4 L446.3,979.1 L443.3,979.7 L440.3,980.2 L437.2,980.7 L434.1,981.1 L430.9,981.4 L427.7,981.7 L424.5,981.9 L421.2,982.0 L418.0,982.0 L414.8,982.0 L411.5,981.9 L408.3,981.7 L405.1,981.4 L401.9,981.1 L398.8,980.7 L395.7,980.2 L392.7,979.7 L389.7,979.1 L386.8,978.4 L383.9,977.7 L381.2,976.9 L378.5,976.0 L375.9,975.1 L373.4,974.2 L371.0,973.1 L368.7,972.0 L366.5,970.9 L364.5,969.7 L362.5,968.5 L360.7,967.2 L359.0,965.9 L357.5,964.6 L356.1,963.2 L354.8,961.8 L353.7,960.4 L352.7,958.9 L351.9,957.5 L351.2,956.0 L350.7,954.5" stroke-width="1.1" />
<path d="M484.0,957.5 L483.4,958.9 L482.6,960.3 L481.7,961.7 L480.7,963.1 L479.5,964.5 L478.2,965.8 L476.8,967.1 L475.2,968.4 L473.5,969.6 L471.7,970.8 L469.8,972.0 L467.8,973.1 L465.7,974.1 L463.4,975.2 L461.1,976.1 L458.6,977.0 L456.1,977.9 L453.5,978.7 L450.8,979.5 L448.1,980.1 L445.3,980.8 L442.4,981.3 L439.4,981.8 L436.5,982.3 L433.5,982.7 L430.4,983.0 L427.3,983.2 L424.2,983.4 L421.1,983.5 L418.0,983.5 L414.9,983.5 L411.8,983.4 L408.7,983.2 L405.6,983.0 L402.5,982.7 L399.5,982.3 L396.6,981.8 L393.6,981.3 L390.7,980.8 L387.9,980.1 L385.2,979.5 L382.5,978.7 L379.9,977.9 L377.4,977.0 L374.9,976.1 L372.6,975.2 L370.3,974.1 L368.2,973.1 L366.2,972.0 L364.3,970.8 L362.5,969.6 L360.8,968.4 L359.2,967.1 L357.8,965.8 L356.5,964.5 L355.3,963.1 L354.3,961.7 L353.4,960.3 L352.6,958.9 L352.0,957.5" stroke-width="1.1" />
<path d="M416.6,944.9 L416.3,944.8 L416.1,944.7 L415.8,944.5 L415.6,944.4 L415.4,944.2 L415.2,944.0 L415.1,943.7 L414.9,943.5 L414.8,943.2 L414.8,943.0 L414.8,942.7 L414.8,942.4 L414.9,942.1 L415.0,941.8 L415.2,941.5 L415.4,941.2 L415.7,940.9 L416.0,940.6 L416.4,940.4 L416.8,940.1 L417.3,939.9 L417.8,939.7 L418.4,939.5 L419.0,939.4 L419.7,939.3 L420.3,939.2 L421.0,939.2 L421.8,939.2 L422.5,939.3 L423.2,939.4 L423.9,939.5 L424.7,939.7 L425.4,939.9 L426.0,940.2 L426.7,940.5 L427.2,940.9 L427.8,941.3 L428.3,941.7 L428.7,942.2 L429.0,942.7 L429.3,943.2 L429.5,943.8 L429.6,944.3 L429.6,944.9 L429.5,945.4 L429.3,946.0 L429.1,946.6 L428.7,947.1 L428.3,947.6 L427.8,948.2 L427.2,948.6 L426.5,949.1 L425.7,949.5 L424.9,949.9 L424.0,950.2 L423.1,950.5 L422.1,950.7 L421.1,950.9 L420.0,951.1 L418.9,951.1 L417.8,951.1 L416.7,951.1 L415.6,951.0 L414.5,950.9 L413.4,950.6 L412.3,950.4 L411.3,950.1 L410.3,949.7 L409.3,949.2 L408.4,948.8 L407.6,948.2 L406.8,947.7 L406.1,947.0 L405.5,946.4 L404.9,945.7 L404.5,944.9 L404.2,944.2 L403.9,943.4 L403.8,942.6 L403.8,941.8 L403.9,941.0 L404.1,940.1 L404.4,939.3 L404.9,938.5 L405.5,937.7 L406.2,936.9 L407.0,936.1 L408.0,935.4 L409.0,934.7 L410.2,934.1 L411.5,933.6 L412.9,933.1 L414.4,932.6 L415.9,932.3 L417.5,932.0 L419.2,931.8 L420.9,931.7 L422.7,931.7 L424.5,931.8 L426.2,932.0 L428.0,932.3 L429.7,932.6 L431.3,933.1 L432.9,933.7 L434.4,934.4 L435.8,935.1 L437.1,936.0 L438.3,936.9 L439.3,937.8 L440.2,938.9 L440.9,940.0 L441.5,941.1 L441.8,942.2 L442.0,943.4 L442.0,944.6 L441.8,945.8 L441.4,947.0 L440.9,948.1 L440.1,949.3 L439.2,950.3 L438.1,951.4 L436.9,952.3 L435.5,953.2 L434.0,954.1 L432.4,954.8 L430.6,955.5 L428.8,956.0 L426.8,956.5 L424.9,956.9 L422.8,957.1 L420.7,957.3 L418.6,957.3 L416.5,957.3 L414.4,957.1 L412.4,956.9 L410.3,956.5 L408.3,956.0 L406.4,955.5 L404.6,954.8 L402.8,954.1 L401.2,953.2 L399.6,952.3 L398.2,951.3 L396.9,950.3 L395.8,949.1 L394.8,947.9 L394.0,946.7 L393.4,945.4 L392.9,944.1 L392.6,942.7 L392.5,941.4 L392.6,940.0 L392.9,938.6 L393.4,937.2 L394.1,935.8 L395.0,934.5 L396.1,933.2 L397.4,931.9 L398.9,930.7 L400.6,929.6 L402.5,928.5 L404.6,927.5 L406.8,926.7 L409.1,925.9 L411.6,925.3 L414.2,924.8 L416.9,924.4 L419.6,924.2 L422.4,924.1 L425.2,924.2 L428.1,924.4 L430.9,924.8 L433.6,925.3 L436.3,926.0 L438.9,926.8 L441.4,927.8 L443.7,928.9 L445.8,930.1 L447.7,931.5 L449.5,933.0 L451.0,934.5 L452.2,936.2 L453.2,937.9 L453.9,939.6 L454.4,941.4 L454.5,943.2 L454.4,945.0 L454.0,946.8 L453.3,948.6 L452.3,950.4 L451.1,952.0 L449.6,953.6 L447.9,955.2 L445.9,956.6 L443.7,957.9 L441.4,959.1 L438.8,960.2 L436.2,961.1 L433.3,961.9 L430.4,962.5 L427.4,963.0 L424.4,963.4 L421.3,963.5 L418.2,963.6 L415.1,963.4 L412.0,963.1 L409.0,962.7 L406.0,962.1 L403.1,961.4 L400.4,960.5 L397.7,959.5 L395.2,958.4 L392.9,957.2 L390.7,955.8 L388.8,954.4 L387.0,952.8 L385.4,951.1 L384.1,949.4 L383.0,947.6 L382.2,945.8 L381.6,943.9 L381.3,942.0 L381.2,940.0 L381.5,938.0 L382.0,936.1 L382.8,934.1 L383.9,932.2 L385.3,930.4 L386.9,928.5 L388.8,926.8 L391.0,925.2 L393.5,923.6 L396.2,922.2 L399.1,920.9 L402.2,919.8 L405.5,918.8 L409.0,917.9 L412.7,917.3 L416.4,916.8 L420.2,916.6 L424.1,916.5 L428.0,916.7 L431.9,917.1 L435.7,917.6 L439.5,918.4 L443.1,919.4 L446.6,920.6 L449.9,922.0 L453.0,923.5 L455.9,925.3 L458.5,927.1 L460.7,929.2 L462.7,931.3 L464.3,933.5 L465.5,935.9 L466.4,938.3 L466.9,940.7 L467.0,943.1 L466.8,945.6 L466.1,948.0 L465.1,950.4 L463.7,952.7 L461.9,954.9 L459.8,957.1 L457.4,959.1 L454.7,960.9 L451.8,962.6 L448.6,964.2 L445.1,965.6 L441.5,966.8 L437.7,967.8 L433.8,968.6 L429.8,969.2 L425.7,969.6 L421.6,969.8 L417.5,969.8 L413.4,969.5 L409.3,969.1 L405.4,968.5 L401.5,967.7 L397.7,966.7 L394.2,965.5 L390.7,964.2 L387.5,962.7 L384.5,961.0 L381.7,959.2 L379.2,957.3 L377.0,955.2 L375.0,953.1 L373.4,950.8 L372.0,948.5 L371.0,946.0 L370.3,943.6 L370.0,941.1 L370.0,938.6 L370.4,936.0 L371.1,933.5 L372.3,931.0 L373.7,928.5 L375.6,926.2 L377.8,923.8 L380.3,921.6" stroke-width="1.3" />
<path d="M414.0,945.8 L413.6,945.6 L413.2,945.3 L412.9,945.0 L412.6,944.7 L412.4,944.3 L412.2,944.0 L412.0,943.6 L411.9,943.2 L411.9,942.8 L411.9,942.3 L412.0,941.9 L412.1,941.5 L412.3,941.0 L412.6,940.6 L413.0,940.2 L413.4,939.8 L413.9,939.4 L414.4,939.0 L415.0,938.7 L415.7,938.4 L416.5,938.1 L417.3,937.8 L418.1,937.6 L419.0,937.5 L420.0,937.4 L420.9,937.3 L421.9,937.3 L422.9,937.4 L423.9,937.5 L424.9,937.7 L425.9,937.9 L426.8,938.2 L427.8,938.5 L428.6,938.9 L429.4,939.4 L430.2,939.9 L430.9,940.5 L431.5,941.1 L431.9,941.7 L432.3,942.4 L432.6,943.0 L432.8,943.8 L432.9,944.5 L432.9,945.2 L432.7,946.0 L432.5,946.7 L432.1,947.4 L431.6,948.1 L431.0,948.8 L430.3,949.4 L429.4,950.0 L428.5,950.5 L427.6,951.1 L426.5,951.5 L425.3,951.9 L424.1,952.2 L422.9,952.5 L421.6,952.7 L420.3,952.9 L418.9,952.9 L417.5,952.9 L416.1,952.9 L414.8,952.7 L413.4,952.5 L412.1,952.3 L410.8,951.9 L409.5,951.5 L408.3,951.0 L407.2,950.5 L406.1,949.9 L405.1,949.2 L404.2,948.5 L403.4,947.8 L402.6,947.0 L402.0,946.1 L401.5,945.2 L401.1,944.3 L400.9,943.4 L400.7,942.4 L400.8,941.5 L400.9,940.5 L401.2,939.5 L401.6,938.5 L402.2,937.6 L402.9,936.6 L403.8,935.7 L404.8,934.8 L405.9,934.0 L407.2,933.2 L408.6,932.5 L410.2,931.8 L411.8,931.3 L413.5,930.8 L415.4,930.4 L417.3,930.1 L419.3,929.9 L421.3,929.8 L423.3,929.8 L425.4,929.9 L427.4,930.1 L429.4,930.5 L431.4,931.0 L433.3,931.5 L435.1,932.2 L436.9,933.0 L438.5,933.9 L439.9,934.8 L441.3,935.9 L442.4,937.0 L443.4,938.2 L444.2,939.5 L444.8,940.8 L445.2,942.1 L445.4,943.5 L445.3,944.8 L445.1,946.2 L444.6,947.5 L444.0,948.8 L443.1,950.1 L442.0,951.3 L440.8,952.5 L439.4,953.6 L437.8,954.6 L436.0,955.5 L434.2,956.4 L432.2,957.1 L430.1,957.7 L427.9,958.2 L425.6,958.7 L423.3,958.9 L421.0,959.1 L418.6,959.2 L416.2,959.1 L413.8,958.9 L411.5,958.6 L409.2,958.2 L407.0,957.6 L404.9,957.0 L402.8,956.3 L400.8,955.4 L399.0,954.5 L397.3,953.4 L395.7,952.3 L394.3,951.1 L393.1,949.9 L392.0,948.5 L391.1,947.1 L390.4,945.7 L389.9,944.2 L389.6,942.7 L389.5,941.2 L389.6,939.6 L390.0,938.1 L390.5,936.5 L391.3,935.0 L392.4,933.5 L393.6,932.1 L395.1,930.7 L396.8,929.4 L398.6,928.1 L400.7,927.0 L403.0,925.9 L405.5,925.0 L408.1,924.1 L410.8,923.5 L413.7,922.9 L416.6,922.5 L419.7,922.3 L422.8,922.2 L425.9,922.3 L429.0,922.5 L432.1,923.0 L435.1,923.5 L438.1,924.3 L440.9,925.2 L443.6,926.3 L446.1,927.5 L448.4,928.9 L450.6,930.4 L452.4,932.0 L454.1,933.7 L455.4,935.5 L456.5,937.4 L457.3,939.3 L457.7,941.3 L457.9,943.3 L457.7,945.2 L457.3,947.2 L456.5,949.2 L455.4,951.1 L454.0,952.9 L452.4,954.6 L450.5,956.3 L448.3,957.8 L446.0,959.3 L443.4,960.6 L440.6,961.7 L437.7,962.7 L434.6,963.6 L431.4,964.3 L428.2,964.8 L424.8,965.2 L421.5,965.4 L418.1,965.4 L414.7,965.2 L411.4,964.9 L408.1,964.4 L404.9,963.8 L401.8,963.0 L398.8,962.0 L395.9,961.0 L393.2,959.7 L390.7,958.4 L388.4,956.9 L386.3,955.3 L384.4,953.6 L382.7,951.9 L381.3,950.0 L380.1,948.0 L379.2,946.0 L378.6,944.0 L378.3,941.9 L378.2,939.8 L378.5,937.7 L379.1,935.6 L379.9,933.5 L381.1,931.4 L382.6,929.4 L384.4,927.5 L386.5,925.6 L388.9,923.8 L391.5,922.2 L394.4,920.6 L397.6,919.3 L400.9,918.0 L404.5,917.0 L408.3,916.1 L412.2,915.4 L416.2,914.9 L420.3,914.7 L424.5,914.6 L428.7,914.8 L432.9,915.2 L437.0,915.8 L441.0,916.7 L444.9,917.7 L448.7,919.0 L452.2,920.5 L455.5,922.2 L458.5,924.0 L461.3,926.0 L463.7,928.2 L465.8,930.5 L467.5,932.9 L468.8,935.4 L469.8,938.0 L470.3,940.6 L470.4,943.2 L470.1,945.8 L469.4,948.4 L468.3,950.9 L466.8,953.4 L464.9,955.8 L462.6,958.1 L460.1,960.2 L457.2,962.2 L454.0,964.0 L450.6,965.7 L446.9,967.2 L443.0,968.4 L439.0,969.5 L434.8,970.3 L430.5,971.0 L426.2,971.4 L421.8,971.6 L417.4,971.6 L413.0,971.3 L408.7,970.9 L404.5,970.2 L400.4,969.3 L396.4,968.3 L392.6,967.0 L388.9,965.6 L385.5,964.0 L382.3,962.2 L379.4,960.3 L376.7,958.2 L374.3,956.0 L372.2,953.7 L370.5,951.3 L369.1,948.9 L368.0,946.3 L367.3,943.7 L366.9,941.0 L367.0,938.3 L367.4,935.6 L368.2,933.0 L369.4,930.3 L371.0,927.7 L372.9,925.2 L375.3,922.7 L378.0,920.4" stroke-width="1.3" />
<path d="M468,960 C471,950 472,940 470,933 M473,958 C475,950 476,943 474,936" stroke-width="1.2" />
<line x1="420.0" y1="942.0" x2="461.0" y2="917.5" stroke-width="2.4" />
<line x1="420.0" y1="942.0" x2="461.0" y2="917.5" stroke-width="0.9" stroke="#fff"/>
<ellipse cx="461.0" cy="917.5" rx="2.2" ry="1.8" stroke-width="1.1" fill="#fff"/>
<path d="M458.2,901.4 L478.1,890.6 L502.2,903.9 L502.2,912.2 L485.6,920.5 L468,910 Z" fill="#fff" stroke="none"/>
<path d="M458.2,901.4 L478.1,890.6 L502.2,903.9 L502.2,912.2 L485.6,920.5 L468.0,910.0" stroke-width="2.0" />
<line x1="485.6" y1="904.0" x2="502.2" y2="903.9" stroke-width="1.1" />
<line x1="485.6" y1="904.0" x2="485.6" y2="920.5" stroke-width="1.1" />
<line x1="469.0" y1="900.5" x2="485.6" y2="904.0" stroke-width="1.1" />
<path d="M496,922 C505,924 510,915 520,918 C530,922 528,932 518,934 C510,936 506,929 496,929" stroke-width="1.8" />
<path d="M489.0,915.0 L498.0,910.0 L501.0,915.0 L492.0,920.0 Z" stroke-width="1.5" />
<path d="M346.30,823.10 L351.10,823.10 L351.10,850.00 L344.90,850.00 L344.90,832.90 L342.00,834.50 L339.10,835.10 L339.10,830.30 Z" fill="#000" stroke="none"/>
<text x="357.0" y="850.0">5</text>
<line x1="366.6" y1="857.0" x2="377.9" y2="902.9" stroke-width="2.2" />
<path d="M886.3,947.8 L907.1,937.0 L931.8,950.9 L931.8,960.1 L914.8,970.9 L914.8,960.0 L900.0,952.0" stroke-width="2.0" />
<line x1="914.8" y1="960.0" x2="931.8" y2="950.9" stroke-width="1.1" />
<path d="M917,972 C928,975 935,968 945,970 C958,973 958,983 948,985 C938,987 932,980 920,980" stroke-width="1.8" />
<path d="M916.0,963.0 L922.0,960.0 L924.0,965.0 L918.0,968.0 Z" stroke-width="1.5" />
<path d="M777.0,980.0 A70,36 0 0 1 917.0,980.0 L917.0,1010.0 A70,36 0 0 1 777.0,1010.0 Z" fill="#fff" stroke="none"/>
<path d="M777.0,1010.0 L777.0,980.0 A70,36 0 0 1 917.0,980.0 L917.0,1010.0 A70,36 0 0 1 777.0,1010.0" stroke-width="2.6" />
<ellipse cx="847.0" cy="987.8" rx="61.0" ry="38.5" stroke-width="1.1" />
<path d="M905.0,999.8 L904.2,1001.4 L903.4,1003.0 L902.4,1004.5 L901.4,1006.1 L900.2,1007.5 L899.0,1009.0 L897.6,1010.4 L896.1,1011.8 L894.6,1013.1 L893.0,1014.4 L891.2,1015.7 L889.4,1016.9 L887.5,1018.0 L885.6,1019.1 L883.5,1020.1 L881.4,1021.1 L879.2,1022.0 L877.0,1022.9 L874.7,1023.7 L872.4,1024.4 L870.0,1025.1 L867.5,1025.7 L865.0,1026.2 L862.5,1026.7 L860.0,1027.1 L857.4,1027.4 L854.8,1027.7 L852.2,1027.9 L849.6,1028.0 L847.0,1028.0 L844.4,1028.0 L841.8,1027.9 L839.2,1027.7 L836.6,1027.4 L834.0,1027.1 L831.5,1026.7 L829.0,1026.2 L826.5,1025.7 L824.0,1025.1 L821.6,1024.4 L819.3,1023.7 L817.0,1022.9 L814.8,1022.0 L812.6,1021.1 L810.5,1020.1 L808.4,1019.1 L806.5,1018.0 L804.6,1016.9 L802.8,1015.7 L801.0,1014.4 L799.4,1013.1 L797.9,1011.8 L796.4,1010.4 L795.0,1009.0 L793.8,1007.5 L792.6,1006.1 L791.6,1004.5 L790.6,1003.0 L789.8,1001.4 L789.0,999.8" stroke-width="1.1" />
<path d="M914.3,1000.0 L913.8,1001.5 L913.1,1003.0 L912.3,1004.5 L911.3,1006.0 L910.2,1007.5 L908.9,1008.9 L907.5,1010.3 L906.0,1011.6 L904.3,1013.0 L902.5,1014.2 L900.5,1015.5 L898.5,1016.7 L896.3,1017.8 L894.0,1018.9 L891.6,1020.0 L889.1,1020.9 L886.5,1021.9 L883.8,1022.7 L881.1,1023.5 L878.2,1024.3 L875.3,1025.0 L872.3,1025.6 L869.3,1026.1 L866.2,1026.6 L863.1,1027.0 L859.9,1027.3 L856.7,1027.6 L853.5,1027.8 L850.2,1027.9 L847.0,1027.9 L843.8,1027.9 L840.5,1027.8 L837.3,1027.6 L834.1,1027.3 L830.9,1027.0 L827.8,1026.6 L824.7,1026.1 L821.7,1025.6 L818.7,1025.0 L815.8,1024.3 L812.9,1023.5 L810.2,1022.7 L807.5,1021.9 L804.9,1020.9 L802.4,1020.0 L800.0,1018.9 L797.7,1017.8 L795.5,1016.7 L793.5,1015.5 L791.5,1014.2 L789.7,1013.0 L788.0,1011.6 L786.5,1010.3 L785.1,1008.9 L783.8,1007.5 L782.7,1006.0 L781.7,1004.5 L780.9,1003.0 L780.2,1001.5 L779.7,1000.0" stroke-width="1.1" />
<path d="M913.0,1003.1 L912.4,1004.5 L911.6,1006.0 L910.7,1007.4 L909.7,1008.8 L908.5,1010.2 L907.2,1011.5 L905.8,1012.9 L904.2,1014.1 L902.5,1015.4 L900.7,1016.6 L898.8,1017.8 L896.8,1018.9 L894.7,1020.0 L892.4,1021.0 L890.1,1022.0 L887.6,1022.9 L885.1,1023.8 L882.5,1024.6 L879.8,1025.4 L877.1,1026.1 L874.3,1026.7 L871.4,1027.3 L868.4,1027.8 L865.5,1028.3 L862.5,1028.6 L859.4,1028.9 L856.3,1029.2 L853.2,1029.4 L850.1,1029.5 L847.0,1029.5 L843.9,1029.5 L840.8,1029.4 L837.7,1029.2 L834.6,1028.9 L831.5,1028.6 L828.5,1028.3 L825.6,1027.8 L822.6,1027.3 L819.7,1026.7 L816.9,1026.1 L814.2,1025.4 L811.5,1024.6 L808.9,1023.8 L806.4,1022.9 L803.9,1022.0 L801.6,1021.0 L799.3,1020.0 L797.2,1018.9 L795.2,1017.8 L793.3,1016.6 L791.5,1015.4 L789.8,1014.1 L788.2,1012.9 L786.8,1011.5 L785.5,1010.2 L784.3,1008.8 L783.3,1007.4 L782.4,1006.0 L781.6,1004.5 L781.0,1003.1" stroke-width="1.1" />
<path d="M845.6,993.9 L845.3,993.8 L845.1,993.7 L844.8,993.5 L844.6,993.3 L844.4,993.2 L844.2,992.9 L844.1,992.7 L843.9,992.5 L843.8,992.2 L843.8,991.9 L843.8,991.7 L843.8,991.4 L843.9,991.1 L844.0,990.8 L844.2,990.5 L844.4,990.2 L844.7,989.9 L845.0,989.6 L845.4,989.4 L845.8,989.1 L846.3,988.9 L846.8,988.7 L847.4,988.5 L848.0,988.4 L848.7,988.3 L849.3,988.2 L850.0,988.2 L850.8,988.2 L851.5,988.3 L852.2,988.4 L852.9,988.5 L853.7,988.7 L854.4,988.9 L855.0,989.2 L855.7,989.5 L856.2,989.8 L856.8,990.2 L857.3,990.6 L857.7,991.1 L858.0,991.6 L858.3,992.1 L858.5,992.6 L858.6,993.2 L858.6,993.7 L858.5,994.3 L858.3,994.8 L858.1,995.3 L857.7,995.9 L857.3,996.4 L856.8,996.9 L856.2,997.4 L855.5,997.8 L854.7,998.2 L853.9,998.6 L853.0,998.9 L852.1,999.1 L851.1,999.4 L850.1,999.5 L849.0,999.7 L847.9,999.7 L846.8,999.8 L845.7,999.7 L844.6,999.6 L843.5,999.5 L842.4,999.2 L841.3,999.0 L840.3,998.7 L839.3,998.3 L838.3,997.9 L837.4,997.4 L836.6,996.9 L835.8,996.3 L835.1,995.7 L834.5,995.0 L833.9,994.4 L833.5,993.7 L833.2,992.9 L832.9,992.1 L832.8,991.4 L832.8,990.6 L832.9,989.8 L833.1,988.9 L833.4,988.1 L833.9,987.3 L834.5,986.6 L835.2,985.8 L836.0,985.1 L837.0,984.4 L838.0,983.7 L839.2,983.1 L840.5,982.5 L841.9,982.0 L843.4,981.6 L844.9,981.3 L846.5,981.0 L848.2,980.8 L849.9,980.7 L851.7,980.7 L853.5,980.8 L855.2,981.0 L857.0,981.2 L858.7,981.6 L860.3,982.1 L861.9,982.6 L863.4,983.3 L864.8,984.0 L866.1,984.8 L867.3,985.7 L868.3,986.6 L869.2,987.6 L869.9,988.7 L870.5,989.8 L870.8,990.9 L871.0,992.0 L871.0,993.2 L870.8,994.3 L870.4,995.5 L869.9,996.6 L869.1,997.7 L868.2,998.7 L867.1,999.7 L865.9,1000.7 L864.5,1001.5 L863.0,1002.3 L861.4,1003.1 L859.6,1003.7 L857.8,1004.2 L855.8,1004.7 L853.9,1005.0 L851.8,1005.3 L849.7,1005.4 L847.6,1005.5 L845.5,1005.4 L843.4,1005.3 L841.4,1005.0 L839.3,1004.7 L837.3,1004.2 L835.4,1003.7 L833.6,1003.0 L831.8,1002.3 L830.2,1001.5 L828.6,1000.6 L827.2,999.6 L825.9,998.6 L824.8,997.5 L823.8,996.3 L823.0,995.1 L822.4,993.9 L821.9,992.6 L821.6,991.2 L821.5,989.9 L821.6,988.6 L821.9,987.2 L822.4,985.9 L823.1,984.5 L824.0,983.2 L825.1,981.9 L826.4,980.7 L827.9,979.5 L829.6,978.4 L831.5,977.4 L833.6,976.5 L835.8,975.6 L838.1,974.9 L840.6,974.3 L843.2,973.8 L845.9,973.4 L848.6,973.2 L851.4,973.1 L854.2,973.2 L857.1,973.4 L859.9,973.8 L862.6,974.3 L865.3,974.9 L867.9,975.7 L870.4,976.7 L872.7,977.7 L874.8,978.9 L876.7,980.3 L878.5,981.7 L880.0,983.2 L881.2,984.8 L882.2,986.4 L882.9,988.1 L883.4,989.8 L883.5,991.6 L883.4,993.3 L883.0,995.1 L882.3,996.8 L881.3,998.5 L880.1,1000.1 L878.6,1001.7 L876.9,1003.1 L874.9,1004.5 L872.7,1005.8 L870.4,1006.9 L867.8,1008.0 L865.2,1008.9 L862.3,1009.6 L859.4,1010.2 L856.4,1010.7 L853.4,1011.0 L850.3,1011.2 L847.2,1011.2 L844.1,1011.1 L841.0,1010.8 L838.0,1010.4 L835.0,1009.8 L832.1,1009.1 L829.4,1008.3 L826.7,1007.3 L824.2,1006.2 L821.9,1005.0 L819.7,1003.7 L817.8,1002.3 L816.0,1000.8 L814.4,999.2 L813.1,997.5 L812.0,995.7 L811.2,994.0 L810.6,992.1 L810.3,990.2 L810.2,988.4 L810.5,986.4 L811.0,984.5 L811.8,982.7 L812.9,980.8 L814.3,979.0 L815.9,977.2 L817.8,975.5 L820.0,973.9 L822.5,972.4 L825.2,971.1 L828.1,969.8 L831.2,968.7 L834.5,967.7 L838.0,966.9 L841.7,966.3 L845.4,965.9 L849.2,965.6 L853.1,965.6 L857.0,965.7 L860.9,966.1 L864.7,966.6 L868.5,967.4 L872.1,968.3 L875.6,969.5 L878.9,970.8 L882.0,972.3 L884.9,974.0 L887.5,975.8 L889.7,977.7 L891.7,979.8 L893.3,982.0 L894.5,984.2 L895.4,986.5 L895.9,988.9 L896.0,991.2 L895.8,993.6 L895.1,996.0 L894.1,998.3 L892.7,1000.5 L890.9,1002.7 L888.8,1004.7 L886.4,1006.6 L883.7,1008.4 L880.8,1010.1 L877.6,1011.6 L874.1,1012.9 L870.5,1014.1 L866.7,1015.1 L862.8,1015.8 L858.8,1016.4 L854.7,1016.8 L850.6,1017.0 L846.5,1017.0 L842.4,1016.7 L838.3,1016.3 L834.4,1015.7 L830.5,1014.9 L826.7,1014.0 L823.2,1012.8 L819.7,1011.5 L816.5,1010.1 L813.5,1008.5 L810.7,1006.7 L808.2,1004.8 L806.0,1002.8 L804.0,1000.7 L802.4,998.6 L801.0,996.3 L800.0,994.0 L799.3,991.6 L799.0,989.1 L799.0,986.7 L799.4,984.2 L800.1,981.8 L801.3,979.4 L802.7,977.0 L804.6,974.7 L806.8,972.4 L809.3,970.3" stroke-width="1.3" />
<path d="M843.0,994.8 L842.6,994.5 L842.2,994.3 L841.9,994.0 L841.6,993.6 L841.4,993.3 L841.2,992.9 L841.0,992.6 L840.9,992.2 L840.9,991.8 L840.9,991.3 L841.0,990.9 L841.1,990.5 L841.3,990.1 L841.6,989.6 L842.0,989.2 L842.4,988.8 L842.9,988.4 L843.4,988.1 L844.0,987.7 L844.7,987.4 L845.5,987.1 L846.3,986.9 L847.1,986.7 L848.0,986.5 L849.0,986.4 L849.9,986.4 L850.9,986.4 L851.9,986.4 L852.9,986.5 L853.9,986.7 L854.9,986.9 L855.8,987.2 L856.8,987.6 L857.6,987.9 L858.4,988.4 L859.2,988.9 L859.9,989.4 L860.5,990.0 L860.9,990.6 L861.3,991.3 L861.6,991.9 L861.8,992.6 L861.9,993.3 L861.9,994.0 L861.7,994.7 L861.5,995.5 L861.1,996.1 L860.6,996.8 L860.0,997.5 L859.3,998.1 L858.4,998.7 L857.5,999.2 L856.6,999.7 L855.5,1000.1 L854.3,1000.5 L853.1,1000.8 L851.9,1001.1 L850.6,1001.3 L849.3,1001.4 L847.9,1001.5 L846.5,1001.5 L845.1,1001.4 L843.8,1001.3 L842.4,1001.1 L841.1,1000.8 L839.8,1000.5 L838.5,1000.1 L837.3,999.6 L836.2,999.1 L835.1,998.5 L834.1,997.8 L833.2,997.1 L832.4,996.4 L831.6,995.6 L831.0,994.8 L830.5,993.9 L830.1,993.0 L829.9,992.1 L829.7,991.2 L829.8,990.2 L829.9,989.3 L830.2,988.3 L830.6,987.4 L831.2,986.4 L831.9,985.5 L832.8,984.6 L833.8,983.8 L834.9,983.0 L836.2,982.2 L837.6,981.5 L839.2,980.9 L840.8,980.3 L842.5,979.8 L844.4,979.4 L846.3,979.1 L848.3,978.9 L850.3,978.8 L852.3,978.9 L854.4,979.0 L856.4,979.2 L858.4,979.5 L860.4,980.0 L862.3,980.5 L864.1,981.2 L865.9,981.9 L867.5,982.8 L868.9,983.7 L870.3,984.8 L871.4,985.9 L872.4,987.0 L873.2,988.2 L873.8,989.5 L874.2,990.8 L874.4,992.1 L874.3,993.4 L874.1,994.7 L873.6,996.0 L873.0,997.3 L872.1,998.5 L871.0,999.7 L869.8,1000.8 L868.4,1001.9 L866.8,1002.8 L865.0,1003.7 L863.2,1004.6 L861.2,1005.3 L859.1,1005.9 L856.9,1006.4 L854.6,1006.8 L852.3,1007.0 L850.0,1007.2 L847.6,1007.2 L845.2,1007.2 L842.8,1007.0 L840.5,1006.7 L838.2,1006.3 L836.0,1005.8 L833.9,1005.1 L831.8,1004.4 L829.8,1003.6 L828.0,1002.7 L826.3,1001.7 L824.7,1000.6 L823.3,999.4 L822.1,998.2 L821.0,996.9 L820.1,995.5 L819.4,994.1 L818.9,992.7 L818.6,991.2 L818.5,989.7 L818.6,988.2 L819.0,986.7 L819.5,985.2 L820.3,983.7 L821.4,982.3 L822.6,980.9 L824.1,979.5 L825.8,978.3 L827.6,977.0 L829.7,975.9 L832.0,974.9 L834.5,974.0 L837.1,973.2 L839.8,972.5 L842.7,972.0 L845.6,971.6 L848.7,971.3 L851.8,971.3 L854.9,971.3 L858.0,971.6 L861.1,972.0 L864.1,972.6 L867.1,973.3 L869.9,974.2 L872.6,975.2 L875.1,976.4 L877.4,977.7 L879.6,979.2 L881.4,980.7 L883.1,982.4 L884.4,984.1 L885.5,985.9 L886.3,987.8 L886.7,989.7 L886.9,991.6 L886.7,993.6 L886.3,995.5 L885.5,997.3 L884.4,999.2 L883.0,1000.9 L881.4,1002.6 L879.5,1004.2 L877.3,1005.7 L875.0,1007.1 L872.4,1008.4 L869.6,1009.5 L866.7,1010.5 L863.6,1011.3 L860.4,1011.9 L857.2,1012.4 L853.8,1012.8 L850.5,1013.0 L847.1,1013.0 L843.7,1012.8 L840.4,1012.5 L837.1,1012.1 L833.9,1011.4 L830.8,1010.7 L827.8,1009.7 L824.9,1008.7 L822.2,1007.5 L819.7,1006.2 L817.4,1004.7 L815.3,1003.2 L813.4,1001.6 L811.7,999.8 L810.3,998.0 L809.1,996.1 L808.2,994.2 L807.6,992.2 L807.3,990.2 L807.2,988.2 L807.5,986.1 L808.1,984.1 L808.9,982.0 L810.1,980.0 L811.6,978.1 L813.4,976.2 L815.5,974.4 L817.9,972.7 L820.5,971.0 L823.4,969.6 L826.6,968.2 L829.9,967.0 L833.5,966.0 L837.3,965.1 L841.2,964.5 L845.2,964.0 L849.3,963.7 L853.5,963.7 L857.7,963.9 L861.9,964.2 L866.0,964.8 L870.0,965.7 L873.9,966.7 L877.7,967.9 L881.2,969.4 L884.5,971.0 L887.5,972.8 L890.3,974.7 L892.7,976.8 L894.8,979.0 L896.5,981.4 L897.8,983.8 L898.8,986.3 L899.3,988.8 L899.4,991.3 L899.1,993.8 L898.4,996.3 L897.3,998.8 L895.8,1001.2 L893.9,1003.5 L891.6,1005.7 L889.1,1007.8 L886.2,1009.7 L883.0,1011.4 L879.6,1013.0 L875.9,1014.5 L872.0,1015.7 L868.0,1016.7 L863.8,1017.5 L859.5,1018.2 L855.2,1018.6 L850.8,1018.7 L846.4,1018.7 L842.0,1018.5 L837.7,1018.0 L833.5,1017.4 L829.4,1016.5 L825.4,1015.5 L821.6,1014.3 L817.9,1012.9 L814.5,1011.3 L811.3,1009.6 L808.4,1007.8 L805.7,1005.8 L803.3,1003.6 L801.2,1001.4 L799.5,999.1 L798.1,996.7 L797.0,994.2 L796.3,991.7 L795.9,989.1 L796.0,986.5 L796.4,983.9 L797.2,981.3 L798.4,978.7 L800.0,976.2 L801.9,973.7 L804.3,971.4 L807.0,969.1" stroke-width="1.3" />
<path d="M898,1008 C901,998 902,990 900,983 M903,1006 C905,998 906,991 904,985" stroke-width="1.2" />
<line x1="849.0" y1="989.0" x2="889.0" y2="964.0" stroke-width="2.4" />
<line x1="849.0" y1="989.0" x2="889.0" y2="964.0" stroke-width="0.9" stroke="#fff"/>
<ellipse cx="889.0" cy="964.0" rx="2.2" ry="1.8" stroke-width="1.1" fill="#fff"/>
<path d="M801.30,853.60 L806.10,853.60 L806.10,880.50 L799.90,880.50 L799.90,863.40 L797.00,865.00 L794.10,865.60 L794.10,860.80 Z" fill="#000" stroke="none"/>
<text x="812.0" y="880.5">5</text>
<line x1="810.4" y1="884.2" x2="816.0" y2="943.0" stroke-width="2.2" />
<path d="M570.3,1048.2 A105.7,54 0 0 1 781.7,1048.2 L781.7,1082.2 A105.7,54 0 0 1 570.3,1082.2 Z" fill="#fff" stroke="none"/>
<path d="M570.3,1082.2 L570.3,1048.2 A105.7,54 0 0 1 781.7,1048.2 L781.7,1082.2 A105.7,54 0 0 1 570.3,1082.2" stroke-width="2.6" />
<ellipse cx="676.5" cy="1055.0" rx="97.6" ry="57.0" stroke-width="1.1" />
<path d="M770.4,1070.7 L769.4,1073.2 L768.2,1075.7 L766.8,1078.1 L765.3,1080.5 L763.5,1082.9 L761.6,1085.2 L759.5,1087.4 L757.2,1089.6 L754.8,1091.7 L752.1,1093.8 L749.4,1095.8 L746.5,1097.7 L743.4,1099.5 L740.2,1101.3 L736.9,1102.9 L733.5,1104.5 L729.9,1106.0 L726.2,1107.3 L722.5,1108.6 L718.6,1109.8 L714.6,1110.9 L710.6,1111.8 L706.5,1112.7 L702.3,1113.4 L698.1,1114.1 L693.8,1114.6 L689.5,1115.0 L685.2,1115.3 L680.9,1115.4 L676.5,1115.5 L672.1,1115.4 L667.8,1115.3 L663.5,1115.0 L659.2,1114.6 L654.9,1114.1 L650.7,1113.4 L646.5,1112.7 L642.4,1111.8 L638.4,1110.9 L634.4,1109.8 L630.5,1108.6 L626.8,1107.3 L623.1,1106.0 L619.5,1104.5 L616.1,1102.9 L612.8,1101.3 L609.6,1099.5 L606.5,1097.7 L603.6,1095.8 L600.9,1093.8 L598.2,1091.7 L595.8,1089.6 L593.5,1087.4 L591.4,1085.2 L589.5,1082.9 L587.7,1080.5 L586.2,1078.1 L584.8,1075.7 L583.6,1073.2 L582.6,1070.7" stroke-width="1.1" />
<path d="M674.2,1067.2 L674.1,1067.0 L674.1,1066.9 L674.1,1066.7 L674.1,1066.6 L674.1,1066.4 L674.2,1066.3 L674.2,1066.1 L674.3,1066.0 L674.5,1065.8 L674.6,1065.7 L674.8,1065.6 L675.0,1065.5 L675.2,1065.3 L675.4,1065.3 L675.7,1065.2 L676.0,1065.1 L676.3,1065.1 L676.6,1065.0 L677.0,1065.0 L677.3,1065.0 L677.6,1065.0 L678.0,1065.1 L678.3,1065.2 L678.7,1065.3 L679.0,1065.4 L679.4,1065.5 L679.7,1065.7 L679.9,1065.9 L680.2,1066.0 L680.4,1066.3 L680.6,1066.5 L680.8,1066.7 L680.9,1067.0 L681.0,1067.2 L681.1,1067.5 L681.1,1067.8 L681.0,1068.0 L680.9,1068.3 L680.8,1068.6 L680.7,1068.8 L680.4,1069.1 L680.2,1069.3 L679.9,1069.5 L679.6,1069.7 L679.2,1069.9 L678.8,1070.1 L678.4,1070.2 L677.9,1070.3 L677.5,1070.4 L677.0,1070.5 L676.5,1070.5 L676.0,1070.6 L675.5,1070.6 L675.0,1070.5 L674.4,1070.5 L673.9,1070.4 L673.4,1070.3 L672.9,1070.2 L672.4,1070.0 L672.0,1069.9 L671.5,1069.7 L671.1,1069.4 L670.7,1069.2 L670.3,1068.9 L670.0,1068.7 L669.7,1068.4 L669.5,1068.1 L669.2,1067.7 L669.1,1067.4 L668.9,1067.1 L668.9,1066.7 L668.8,1066.3 L668.9,1066.0 L669.0,1065.6 L669.1,1065.2 L669.3,1064.9 L669.6,1064.5 L669.9,1064.1 L670.2,1063.8 L670.7,1063.5 L671.2,1063.2 L671.7,1062.9 L672.3,1062.6 L673.0,1062.4 L673.7,1062.2 L674.4,1062.0 L675.2,1061.9 L676.0,1061.8 L676.8,1061.7 L677.6,1061.7 L678.5,1061.7 L679.4,1061.8 L680.2,1061.9 L681.0,1062.1 L681.8,1062.3 L682.6,1062.6 L683.4,1062.8 L684.1,1063.2 L684.7,1063.6 L685.3,1064.0 L685.8,1064.4 L686.2,1064.9 L686.6,1065.3 L686.8,1065.8 L687.0,1066.4 L687.1,1066.9 L687.1,1067.4 L687.0,1067.9 L686.8,1068.5 L686.6,1069.0 L686.2,1069.5 L685.8,1070.0 L685.3,1070.4 L684.7,1070.8 L684.0,1071.2 L683.3,1071.6 L682.5,1071.9 L681.7,1072.2 L680.8,1072.4 L679.9,1072.6 L678.9,1072.8 L677.9,1072.9 L677.0,1073.0 L676.0,1073.0 L675.0,1072.9 L674.0,1072.9 L673.0,1072.8 L672.1,1072.6 L671.1,1072.4 L670.2,1072.1 L669.4,1071.9 L668.5,1071.5 L667.8,1071.2 L667.0,1070.8 L666.4,1070.4 L665.8,1069.9 L665.2,1069.4 L664.7,1068.9 L664.3,1068.4 L664.0,1067.9 L663.8,1067.3 L663.6,1066.7 L663.5,1066.1 L663.5,1065.5 L663.6,1064.9 L663.8,1064.3 L664.1,1063.7 L664.5,1063.1 L665.0,1062.6 L665.6,1062.0 L666.3,1061.5 L667.0,1061.0 L667.9,1060.5 L668.8,1060.1 L669.9,1059.7 L671.0,1059.3 L672.1,1059.0 L673.4,1058.8 L674.6,1058.6 L676.0,1058.4 L677.3,1058.4 L678.7,1058.4 L680.0,1058.5 L681.4,1058.6 L682.8,1058.8 L684.1,1059.1 L685.3,1059.4 L686.6,1059.8 L687.7,1060.3 L688.8,1060.8 L689.7,1061.4 L690.6,1062.1 L691.4,1062.7 L692.0,1063.4 L692.5,1064.2 L692.9,1065.0 L693.1,1065.7 L693.2,1066.5 L693.2,1067.3 L693.0,1068.1 L692.7,1068.9 L692.2,1069.7 L691.6,1070.4 L690.9,1071.1 L690.1,1071.8 L689.2,1072.4 L688.1,1072.9 L687.0,1073.5 L685.8,1073.9 L684.5,1074.3 L683.2,1074.7 L681.8,1074.9 L680.3,1075.1 L678.9,1075.3 L677.4,1075.4 L675.9,1075.4 L674.5,1075.3 L673.0,1075.2 L671.6,1075.0 L670.2,1074.8 L668.9,1074.5 L667.6,1074.1 L666.3,1073.7 L665.1,1073.2 L664.0,1072.7 L663.0,1072.1 L662.0,1071.5 L661.2,1070.9 L660.4,1070.2 L659.8,1069.5 L659.2,1068.7 L658.8,1068.0 L658.5,1067.2 L658.3,1066.4 L658.2,1065.5 L658.2,1064.7 L658.4,1063.9 L658.7,1063.0 L659.2,1062.2 L659.8,1061.4 L660.5,1060.6 L661.3,1059.9 L662.3,1059.1 L663.4,1058.5 L664.6,1057.8 L666.0,1057.2 L667.4,1056.7 L669.0,1056.2 L670.6,1055.8 L672.3,1055.5 L674.1,1055.3 L675.9,1055.1 L677.8,1055.1 L679.7,1055.1 L681.6,1055.2 L683.5,1055.4 L685.3,1055.7 L687.1,1056.1 L688.8,1056.6 L690.5,1057.1 L692.0,1057.8 L693.5,1058.5 L694.8,1059.3 L695.9,1060.2 L696.9,1061.1 L697.8,1062.0 L698.4,1063.0 L698.9,1064.1 L699.2,1065.1 L699.3,1066.2 L699.2,1067.2 L698.9,1068.3 L698.5,1069.3 L697.8,1070.3 L697.0,1071.3 L696.0,1072.2 L694.9,1073.1 L693.6,1073.9 L692.2,1074.7 L690.7,1075.3 L689.1,1075.9 L687.3,1076.4 L685.5,1076.9 L683.7,1077.2 L681.8,1077.5 L679.8,1077.7 L677.9,1077.8 L675.9,1077.8 L674.0,1077.7 L672.1,1077.5 L670.2,1077.3 L668.4,1076.9 L666.6,1076.5 L664.9,1076.1 L663.2,1075.5 L661.7,1074.9 L660.3,1074.2 L658.9,1073.5 L657.7,1072.7 L656.6,1071.8 L655.6,1071.0 L654.8,1070.0 L654.1,1069.1 L653.6,1068.1 L653.2,1067.1 L652.9,1066.0 L652.8,1065.0 L652.9,1063.9 L653.2,1062.8 L653.6,1061.8 L654.2,1060.7 L655.0,1059.7 L655.9,1058.7 L657.0,1057.7 L658.3,1056.8 L659.8,1055.9 L661.3,1055.1 L663.1,1054.4 L665.0,1053.7 L667.0,1053.1 L669.1,1052.7 L671.3,1052.3 L673.6,1052.0 L675.9,1051.8 L678.3,1051.7 L680.7,1051.8 L683.1,1051.9 L685.5,1052.2 L687.9,1052.6 L690.2,1053.1 L692.3,1053.7 L694.4,1054.4 L696.4,1055.3 L698.2,1056.2 L699.8,1057.2 L701.3,1058.3 L702.5,1059.4 L703.5,1060.6 L704.4,1061.9 L704.9,1063.2 L705.3,1064.5 L705.4,1065.8 L705.3,1067.2 L704.9,1068.5 L704.3,1069.8 L703.5,1071.0 L702.4,1072.2 L701.2,1073.4 L699.7,1074.4 L698.1,1075.5 L696.3,1076.4 L694.4,1077.2 L692.3,1077.9 L690.2,1078.6 L687.9,1079.1 L685.6,1079.5 L683.2,1079.9 L680.8,1080.1 L678.3,1080.2 L675.9,1080.2 L673.5,1080.1 L671.1,1079.8 L668.8,1079.5 L666.5,1079.1 L664.3,1078.6 L662.2,1078.0 L660.2,1077.3 L658.3,1076.6 L656.5,1075.7 L654.9,1074.8 L653.4,1073.9 L652.0,1072.8 L650.9,1071.7 L649.8,1070.6 L649.0,1069.4 L648.3,1068.2 L647.9,1066.9 L647.6,1065.7 L647.5,1064.4 L647.6,1063.1 L648.0,1061.8 L648.5,1060.5 L649.2,1059.2 L650.2,1058.0 L651.4,1056.8 L652.8,1055.6 L654.3,1054.5 L656.1,1053.4 L658.1,1052.5 L660.2,1051.6 L662.5,1050.8 L665.0,1050.1 L667.5,1049.5 L670.2,1049.0 L673.0,1048.7 L675.9,1048.5 L678.8,1048.4 L681.7,1048.4 L684.7,1048.6 L687.6,1049.0 L690.4,1049.5 L693.2,1050.1 L695.8,1050.8 L698.4,1051.7 L700.7,1052.7 L702.9,1053.8 L704.9,1055.1 L706.6,1056.4 L708.1,1057.8 L709.3,1059.2 L710.3,1060.7 L711.0,1062.3 L711.4,1063.9 L711.5,1065.5 L711.3,1067.1 L710.9,1068.7 L710.1,1070.2 L709.1,1071.7 L707.8,1073.1 L706.3,1074.5 L704.6,1075.8 L702.6,1077.0 L700.4,1078.1 L698.1,1079.1 L695.6,1080.0 L693.0,1080.7 L690.3,1081.3 L687.5,1081.8 L684.6,1082.2 L681.7,1082.5 L678.8,1082.6 L675.9,1082.6 L673.0,1082.4 L670.1,1082.2 L667.4,1081.8 L664.6,1081.3 L662.0,1080.7 L659.5,1080.0 L657.1,1079.2 L654.9,1078.3 L652.8,1077.3 L650.8,1076.2 L649.1,1075.0 L647.5,1073.8 L646.1,1072.5 L644.9,1071.1 L643.9,1069.7 L643.1,1068.3 L642.6,1066.8 L642.2,1065.3 L642.2,1063.8 L642.3,1062.3 L642.7,1060.7 L643.4,1059.2 L644.3,1057.7 L645.4,1056.2 L646.8,1054.8 L648.5,1053.4 L650.4,1052.1 L652.5,1050.9 L654.8,1049.8 L657.3,1048.7 L660.1,1047.8 L663.0,1047.0 L666.0,1046.3 L669.2,1045.8 L672.5,1045.4 L675.9,1045.1 L679.3,1045.1 L682.8,1045.1 L686.2,1045.4 L689.6,1045.8 L693.0,1046.4 L696.2,1047.1 L699.3,1048.0 L702.3,1049.0 L705.1,1050.2 L707.6,1051.5 L709.9,1052.9 L711.9,1054.5 L713.7,1056.1 L715.1,1057.8 L716.2,1059.6 L717.0,1061.4 L717.5,1063.3 L717.6,1065.1 L717.4,1067.0 L716.8,1068.8 L715.9,1070.6 L714.7,1072.4 L713.2,1074.1 L711.4,1075.6 L709.4,1077.1 L707.1,1078.5 L704.5,1079.8 L701.8,1080.9 L698.9,1082.0 L695.9,1082.8 L692.7,1083.6 L689.4,1084.1 L686.1,1084.6 L682.7,1084.8 L679.3,1085.0 L675.9,1085.0 L672.5,1084.8 L669.2,1084.5 L665.9,1084.0 L662.8,1083.5 L659.7,1082.8 L656.8,1081.9 L654.1,1081.0 L651.5,1079.9 L649.0,1078.8 L646.8,1077.5 L644.7,1076.2 L642.9,1074.7 L641.3,1073.3 L639.9,1071.7 L638.8,1070.1 L637.9,1068.4 L637.3,1066.7 L636.9,1065.0 L636.8,1063.2 L637.0,1061.4 L637.5,1059.7 L638.3,1057.9 L639.3,1056.2 L640.7,1054.5 L642.3,1052.9 L644.2,1051.3 L646.4,1049.8 L648.8,1048.4 L651.5,1047.1 L654.5,1045.9 L657.6,1044.8 L661.0,1043.9 L664.5,1043.1 L668.2,1042.5 L672.0,1042.1 L675.9,1041.8 L679.8,1041.7 L683.8,1041.8 L687.8,1042.1 L691.7,1042.6 L695.5,1043.2 L699.3,1044.1 L702.8,1045.1 L706.2,1046.3 L709.4,1047.7 L712.3,1049.2 L714.9,1050.8 L717.3,1052.6 L719.2,1054.5 L720.9,1056.4 L722.2,1058.5 L723.1,1060.5 L723.6,1062.7 L723.7,1064.8 L723.4,1066.9 L722.8,1069.0 L721.8,1071.1 L720.4,1073.1 L718.6,1075.0 L716.6,1076.8 L714.2,1078.5 L711.6,1080.1 L708.7,1081.5 L705.5,1082.8 L702.2,1084.0 L698.7,1085.0 L695.1,1085.8 L691.3,1086.4 L687.5,1086.9 L683.6,1087.2 L679.7,1087.4 L675.9,1087.4 L672.0,1087.2 L668.2,1086.8 L664.5,1086.3 L660.9,1085.6 L657.5,1084.8 L654.2,1083.9 L651.0,1082.8 L648.0,1081.6 L645.3,1080.3 L642.7,1078.9 L640.4,1077.3 L638.3,1075.7 L636.5,1074.0 L634.9,1072.2 L633.6,1070.4 L632.7,1068.5 L632.0,1066.6 L631.6,1064.6 L631.5,1062.6 L631.7,1060.6 L632.3,1058.6 L633.1,1056.6 L634.4,1054.7 L635.9,1052.8 L637.7,1050.9 L639.9,1049.2 L642.4,1047.5 L645.2,1045.9 L648.2,1044.4 L651.6,1043.1 L655.2,1041.9 L659.0,1040.8 L663.0,1040.0 L667.1,1039.3 L671.4,1038.8 L675.8,1038.5 L680.3,1038.4 L684.8,1038.5 L689.3,1038.8 L693.8,1039.4 L698.1,1040.1 L702.3,1041.1 L706.3,1042.2 L710.2,1043.6 L713.7,1045.1 L717.0,1046.8 L720.0,1048.7 L722.6,1050.7 L724.8,1052.8 L726.7,1055.0 L728.1,1057.3 L729.1,1059.7 L729.7,1062.0 L729.8,1064.4 L729.5,1066.8 L728.7,1069.2 L727.6,1071.5 L726.0,1073.7 L724.0,1075.9 L721.7,1077.9 L719.0,1079.8 L716.0,1081.6 L712.8,1083.2 L709.2,1084.7 L705.5,1086.0 L701.5,1087.1 L697.4,1088.0 L693.2,1088.7 L688.9,1089.3 L684.6,1089.6 L680.2,1089.8 L675.8,1089.8 L671.5,1089.5 L667.3,1089.1 L663.1,1088.6 L659.1,1087.8 L655.2,1086.9 L651.5,1085.8 L647.9,1084.6 L644.6,1083.3 L641.5,1081.8 L638.7,1080.2 L636.1,1078.5 L633.7,1076.7 L631.7,1074.8 L630.0,1072.8 L628.5,1070.7 L627.4,1068.6 L626.6,1066.5 L626.2,1064.3 L626.1,1062.0 L626.4,1059.8 L627.0,1057.6 L628.0,1055.4 L629.4,1053.2 L631.1,1051.1 L633.2,1049.0 L635.6,1047.0 L638.4,1045.1 L641.5,1043.4 L645.0,1041.7 L648.7,1040.2 L652.7,1038.9 L657.0,1037.8 L661.4,1036.8 L666.1,1036.0 L670.9,1035.5 L675.8,1035.2 L680.8,1035.1 L685.8,1035.2 L690.9,1035.6 L695.8,1036.2 L700.7,1037.0 L705.3,1038.1 L709.8,1039.4 L714.1,1040.9 L718.1,1042.6 L721.7,1044.5 L725.0,1046.6 L727.9,1048.8 L730.4,1051.1 L732.4,1053.6 L734.0,1056.2 L735.1,1058.8 L735.8,1061.4 L735.9,1064.1 L735.5,1066.7 L734.7,1069.4 L733.4,1071.9 L731.6,1074.4 L729.4,1076.8 L726.8,1079.1 L723.9,1081.2 L720.5,1083.2 L716.9,1085.0 L712.9,1086.6 L708.8,1088.0 L704.4,1089.2 L699.8,1090.2 L695.1,1091.0 L690.4,1091.6 L685.5,1092.0 L680.7,1092.2 L675.8,1092.2 L671.0,1091.9 L666.3,1091.5 L661.7,1090.8 L657.2,1090.0 L652.9,1089.0 L648.8,1087.8 L644.9,1086.5 L641.2,1085.0 L637.8,1083.3 L634.6,1081.6 L631.7,1079.7 L629.2,1077.7 L626.9,1075.5 L625.0,1073.3 L623.4,1071.1 L622.2,1068.7 L621.3,1066.3 L620.9,1063.9 L620.8,1061.5 L621.1,1059.0 L621.8,1056.5 L622.9,1054.1 L624.4,1051.7 L626.3,1049.3 L628.7,1047.1 L631.4,1044.9 L634.4,1042.8 L637.9,1040.9 L641.7,1039.1 L645.8,1037.4 L650.2,1036.0 L655.0,1034.7 L659.9,1033.6 L665.1,1032.8 L670.4,1032.2 L675.8,1031.8 L681.3,1031.7 L686.9,1031.9 L692.4,1032.3 L697.9,1033.0 L703.2,1033.9 L708.4,1035.1 L713.3,1036.5 L718.0,1038.2 L722.4,1040.1 L726.4,1042.2 L730.0,1044.4 L733.2,1046.9 L736.0,1049.5 L738.2,1052.2 L740.0,1055.0 L741.2,1057.9 L741.8,1060.8 L742.0,1063.7 L741.6,1066.7 L740.7,1069.5 L739.2,1072.4 L737.3,1075.1 L734.8,1077.7 L732.0,1080.2 L728.7,1082.5 L725.0,1084.7 L721.0,1086.7 L716.7,1088.4 L712.1,1090.0 L707.2,1091.3 L702.2,1092.5 L697.0,1093.3 L691.8,1094.0 L686.5,1094.4 L681.1,1094.6 L675.8,1094.6 L670.5,1094.3 L665.3,1093.8 L660.3,1093.1 L655.4,1092.2 L650.6,1091.1 L646.1,1089.8 L641.8,1088.3 L637.8,1086.6 L634.0,1084.8 L630.6,1082.9 L627.4,1080.8 L624.6,1078.6 L622.1,1076.3 L620.0,1073.9 L618.3,1071.4 L617.0,1068.8 L616.0,1066.2 L615.5,1063.6 L615.4,1060.9 L615.8,1058.2 L616.6,1055.5 L617.8,1052.8 L619.5,1050.2 L621.6,1047.6 L624.1,1045.1 L627.1,1042.7 L630.5,1040.5 L634.2,1038.4 L638.4,1036.4 L642.9,1034.6 L647.8,1033.0 L653.0,1031.6 L658.4,1030.5 L664.0,1029.5 L669.8,1028.9 L675.8,1028.5 L681.8,1028.4 L687.9,1028.6 L694.0,1029.0 L699.9,1029.8 L705.8,1030.8 L711.4,1032.1 L716.8,1033.7 L722.0,1035.5 L726.7,1037.5 L731.1,1039.8 L735.1,1042.3 L738.6,1045.0 L741.6,1047.8 L744.0,1050.8 L745.9,1053.9 L747.2,1057.0 L747.9,1060.2 L748.1,1063.4 L747.6,1066.6 L746.6,1069.7 L745.0,1072.8 L742.9,1075.8 L740.2,1078.6 L737.1,1081.3 L733.5,1083.9 L729.5,1086.2 L725.1,1088.4 L720.4,1090.3 L715.3,1092.0 L710.1,1093.5 L704.6,1094.7 L699.0,1095.7 L693.2,1096.4 L687.4,1096.8 L681.6,1097.0 L675.8,1096.9 L670.0,1096.6 L664.4,1096.1 L658.9,1095.3 L653.5,1094.3 L648.4,1093.1 L643.4,1091.7 L638.8,1090.1 L634.4,1088.3 L630.3,1086.4 L626.5,1084.2 L623.1,1082.0 L620.0,1079.6 L617.3,1077.1 L615.1,1074.4 L613.2,1071.7 L611.7,1069.0 L610.7,1066.1 L610.2,1063.2 L610.1,1060.3 L610.5,1057.4 L611.3,1054.4 L612.7,1051.5 L614.5,1048.7 L616.8,1045.9 L619.6,1043.2 L622.8,1040.6 L626.5,1038.1 L630.6,1035.8 L635.1,1033.7 L640.1,1031.8 L645.3,1030.0 L651.0,1028.5 L656.8,1027.3 L663.0,1026.3 L669.3,1025.6 L675.8,1025.2 L682.3,1025.1 L688.9,1025.3 L695.5,1025.7 L702.0,1026.6 L708.3,1027.7 L714.5,1029.1 L720.3,1030.8 L725.9,1032.8 L731.1,1035.0 L735.8,1037.5 L740.1,1040.2 L743.9,1043.1 L747.1,1046.2 L749.8,1049.4 L751.8,1052.7 L753.2,1056.1 L754.0,1059.6 L754.2,1063.0 L753.7,1066.5 L752.6,1069.9 L750.8,1073.2 L748.5,1076.5 L745.6,1079.5 L742.2,1082.5 L738.3,1085.2 L734.0,1087.8 L729.2,1090.1 L724.1,1092.2 L718.6,1094.0 L712.9,1095.6 L707.0,1096.9 L700.9,1098.0 L694.6,1098.7 L688.4,1099.2 L682.1,1099.4 L675.8,1099.3 L669.5,1099.0 L663.4,1098.4 L657.4,1097.6 L651.7,1096.5 L646.1,1095.2 L640.8,1093.7 L635.7,1091.9 L630.9,1090.0 L626.5,1087.9 L622.4,1085.6 L618.7,1083.1 L615.4,1080.6 L612.5,1077.8 L610.1,1075.0 L608.1,1072.1 L606.5,1069.1 L605.4,1066.0 L604.9,1062.9 L604.8,1059.7 L605.2,1056.5 L606.1,1053.4 L607.6,1050.3 L609.5,1047.2 L612.0,1044.2 L615.0,1041.3 L618.5,1038.5 L622.5,1035.8 L627.0,1033.3 L631.9,1031.0 L637.2,1028.9 L642.9,1027.1 L648.9,1025.5 L655.3,1024.1 L661.9,1023.1 L668.8,1022.3 L675.8,1021.8 L682.8,1021.7 L690.0,1021.9 L697.0,1022.5 L704.0,1023.4 L710.9,1024.6 L717.5,1026.1 L723.8,1027.9 L729.8,1030.1 L735.4,1032.5 L740.5,1035.2 L745.2,1038.1 L749.2,1041.2 L752.7,1044.5 L755.6,1048.0 L757.8,1051.6 L759.3,1055.2 L760.1,1058.9 L760.3,1062.7 L759.7,1066.4 L758.5,1070.1 L756.7,1073.7 L754.2,1077.1 L751.0,1080.5 L747.4,1083.6 L743.2,1086.6 L738.5,1089.3 L733.3,1091.8 L727.8,1094.1 L721.9,1096.0 L715.7,1097.7 L709.3,1099.1 L702.8,1100.3 L696.1,1101.1 L689.3,1101.6 L682.5,1101.8 L675.7,1101.7 L669.0,1101.4 L662.5,1100.8 L656.0,1099.9 L649.8,1098.7 L643.8,1097.3 L638.1,1095.6 L632.6,1093.8 L627.5,1091.7 L622.8,1089.4 L618.4,1086.9 L614.4,1084.3 L610.9,1081.5 L607.8,1078.6 L605.1,1075.6 L603.0,1072.4 L601.3,1069.2 L600.1,1065.9 L599.5,1062.5 L599.4,1059.1 L599.9,1055.7 L600.9,1052.3 L602.4,1049.0 L604.6,1045.7 L607.2,1042.4 L610.5,1039.3 L614.2,1036.3 L618.5,1033.5 L623.3,1030.8 L628.6,1028.3 L634.3,1026.1 L640.4,1024.1 L646.9,1022.4 L653.8,1020.9 L660.9,1019.8 L668.2,1019.0 L675.7,1018.5 L683.3,1018.4 L691.0,1018.6 L698.6,1019.2 L706.1,1020.1 L713.4,1021.4 L720.5,1023.1 L727.3,1025.1 L733.8,1027.4 L739.8,1030.0 L745.3,1032.8 L750.2,1036.0 L754.6,1039.3 L758.3,1042.9 L761.3,1046.6 L763.7,1050.4 L765.3,1054.3 L766.2,1058.3 L766.4,1062.3 L765.8,1066.3 L764.5,1070.3 L762.5,1074.1 L759.8,1077.8 L756.5,1081.4 L752.5,1084.8 L748.0,1087.9 L742.9,1090.9 L737.4,1093.5 L731.5,1095.9 L725.2,1098.1 L718.6,1099.9 L711.7,1101.4 L704.7,1102.6 L697.5,1103.4 L690.3,1104.0 L683.0,1104.2 L675.7,1104.1 L668.5,1103.8 L661.5,1103.1 L654.6,1102.1 L647.9,1100.9 L641.5,1099.4 L635.4,1097.6 L629.6,1095.6 L624.1,1093.4 L619.0,1090.9 L614.3,1088.3 L610.1,1085.5 L606.3,1082.5 L603.0,1079.4 L600.1,1076.1 L597.8,1072.7 L596.1,1069.3 L594.8,1065.7 L594.2,1062.2 L594.1,1058.5 L594.6,1054.9 L595.7,1051.3 L597.3,1047.7 L599.6,1044.2 L602.5,1040.7 L605.9,1037.4 L610.0,1034.2 L614.5,1031.2 L619.7,1028.3 L625.3,1025.7 L631.4,1023.3 L638.0,1021.1 L644.9,1019.3 L652.3,1017.8 L659.9,1016.6 L667.7,1015.7 L675.7,1015.2 L683.8,1015.1 L692.0,1015.3 L700.1,1015.9 L708.2,1016.9 L716.0,1018.3 L723.6,1020.1 L730.8,1022.2 L737.7,1024.6 L744.1,1027.4 L750.0,1030.5 L755.2,1033.8 L759.9,1037.4 L763.9,1041.2 L767.1,1045.2 L769.6,1049.3 L771.3,1053.5 L772.3,1057.7 L772.5,1062.0 L771.8,1066.2 L770.4,1070.4 L768.3,1074.5 L765.4,1078.5 L761.9,1082.3 L757.6,1085.9 L752.8,1089.3 L747.4,1092.4 L741.5,1095.2 L735.2,1097.8 L728.5,1100.1 L721.4,1102.0 L714.1,1103.6 L706.6,1104.9 L698.9,1105.8 L691.2,1106.4 L683.4,1106.6 L675.7,1106.5 L668.1,1106.1 L660.5,1105.4 L653.2,1104.4 L646.1,1103.0 L639.2,1101.4 L632.7,1099.5 L626.5,1097.4 L620.7,1095.0 L615.3,1092.4 L610.3,1089.6 L605.8,1086.6 L601.7,1083.5 L598.2,1080.1 L595.2,1076.7 L592.7,1073.1 L590.8,1069.4 L589.5,1065.6 L588.8,1061.8 L588.7,1058.0 L589.3,1054.1" stroke-width="1.5" />
<path d="M757,1090 C753,1075 752,1065 756,1050 M762,1087 C759,1073 759,1063 761,1048" stroke-width="1.2" />
<line x1="640.0" y1="1083.0" x2="745.0" y2="1023.0" stroke-width="2.4" />
<line x1="640.0" y1="1083.0" x2="745.0" y2="1023.0" stroke-width="0.9" stroke="#fff"/>
<ellipse cx="745.0" cy="1023.0" rx="2.2" ry="1.8" stroke-width="1.1" fill="#fff"/>
<path d="M743.8,1005.6 L764.6,994.2 L787.4,1010.3 L787.4,1017 L772.2,1024.5 L750,1015 Z" fill="#fff" stroke="none"/>
<path d="M743.8,1005.6 L764.6,994.2 L787.4,1010.3 L787.4,1017.0 L772.2,1024.5 L772.2,1017.0 L760.0,1010.0" stroke-width="2.0" />
<line x1="772.2" y1="1017.0" x2="787.4" y2="1010.3" stroke-width="1.1" />
<path d="M785,1030 C795,1032 800,1026 808,1028 C818,1031 818,1040 808,1042 C800,1043 796,1037 787,1037" stroke-width="1.8" />
<path d="M776.0,1026.0 L784.0,1021.0 L787.0,1026.0 L779.0,1031.0 Z" stroke-width="1.5" />
<path d="M776.30,1170.60 L781.10,1170.60 L781.10,1197.50 L774.90,1197.50 L774.90,1180.40 L772.00,1182.00 L769.10,1182.60 L769.10,1177.80 Z" fill="#000" stroke="none"/>
<text x="787.0" y="1197.5">5B</text>
<line x1="737.2" y1="1129.8" x2="764.6" y2="1165.8" stroke-width="2.2" />
<path d="M278.9,982.0 L315.0,961.0 L328.4,967.8 L328.4,990.9" stroke-width="2.6" />
<path d="M278.9,982.0 L291.6,989.4 L291.6,1011.0 L295.5,1012.8 L295.5,1019.9" stroke-width="2.6" />
<line x1="292.5" y1="989.4" x2="327.8" y2="969.5" stroke-width="1.1" />
<line x1="294.9" y1="1010.7" x2="327.8" y2="991.5" stroke-width="1.1" />
<path d="M301.0,973.0 L306.0,973.0 L307.0,975.5 L302.0,976.0 Z" stroke-width="1.6" />
<line x1="328.4" y1="990.3" x2="744.8" y2="1229.0" stroke-width="3.0" />
<line x1="296.0" y1="1012.8" x2="722.9" y2="1259.9" stroke-width="1.1" />
<line x1="295.5" y1="1019.9" x2="723.5" y2="1267.4" stroke-width="3.0" />
<path d="M744.8,1229.0 L763.4,1218.9 L777.3,1227.4 L763.4,1235.4 L765.0,1236.0 L765.0,1241.3 L727.7,1263.1 L723.5,1260.4 L723.5,1267.4" stroke-width="2.6" />
<line x1="728.8" y1="1239.1" x2="728.8" y2="1262.6" stroke-width="1.1" />
<line x1="728.8" y1="1239.1" x2="744.8" y2="1230.0" stroke-width="1.1" />
<path d="M729.5,1240.0 L739.5,1247.4 L742.7,1247.4 L763.4,1235.7" stroke-width="1.1" />
<ellipse cx="752.0" cy="1234.0" rx="2.8" ry="2.4" stroke-width="2.2" />
<ellipse cx="328.1" cy="1020.0" rx="3.5" ry="1.7" stroke-width="1.2" transform="rotate(-25 328.1 1020.0)"/>
<ellipse cx="338.5" cy="1014.6" rx="3.5" ry="1.7" stroke-width="1.2" transform="rotate(-25 338.5 1014.6)"/>
<ellipse cx="359.2" cy="1014.6" rx="3.5" ry="1.7" stroke-width="1.2" transform="rotate(-25 359.2 1014.6)"/>
<ellipse cx="369.0" cy="1020.0" rx="3.5" ry="1.7" stroke-width="1.2" transform="rotate(-25 369.0 1020.0)"/>
<ellipse cx="336.1" cy="1028.8" rx="3.5" ry="1.7" stroke-width="1.2" transform="rotate(-25 336.1 1028.8)"/>
<ellipse cx="378.5" cy="1038.6" rx="4.5" ry="3.2" stroke-width="1.6" />
<ellipse cx="421.4" cy="1070.3" rx="3.5" ry="1.7" stroke-width="1.2" transform="rotate(-25 421.4 1070.3)"/>
<ellipse cx="448.1" cy="1065.3" rx="3.5" ry="1.7" stroke-width="1.2" transform="rotate(-25 448.1 1065.3)"/>
<ellipse cx="422.9" cy="1080.1" rx="3.5" ry="1.7" stroke-width="1.2" transform="rotate(-25 422.9 1080.1)"/>
<ellipse cx="458.4" cy="1091.0" rx="3.5" ry="1.7" stroke-width="1.2" transform="rotate(-25 458.4 1091.0)"/>
<ellipse cx="468.8" cy="1091.0" rx="3.5" ry="1.7" stroke-width="1.2" transform="rotate(-25 468.8 1091.0)"/>
<ellipse cx="479.2" cy="1083.0" rx="3.5" ry="1.7" stroke-width="1.2" transform="rotate(-25 479.2 1083.0)"/>
<ellipse cx="488.0" cy="1088.0" rx="3.5" ry="1.7" stroke-width="1.2" transform="rotate(-25 488.0 1088.0)"/>
<ellipse cx="547.3" cy="1149.1" rx="3.5" ry="1.7" stroke-width="1.2" transform="rotate(-25 547.3 1149.1)"/>
<ellipse cx="574.1" cy="1149.1" rx="3.5" ry="1.7" stroke-width="1.2" transform="rotate(-25 574.1 1149.1)"/>
<ellipse cx="580.4" cy="1156.8" rx="3.5" ry="1.7" stroke-width="1.2" transform="rotate(-25 580.4 1156.8)"/>
<ellipse cx="616.0" cy="1188.0" rx="3.5" ry="1.7" stroke-width="1.2" transform="rotate(-25 616.0 1188.0)"/>
<ellipse cx="631.0" cy="1192.4" rx="3.5" ry="1.7" stroke-width="1.2" transform="rotate(-25 631.0 1192.4)"/>
<ellipse cx="678.4" cy="1213.4" rx="4.5" ry="3.2" stroke-width="1.6" />
<ellipse cx="697.2" cy="1236.5" rx="3.5" ry="1.7" stroke-width="1.2" transform="rotate(-25 697.2 1236.5)"/>
<ellipse cx="711.8" cy="1240.9" rx="3.5" ry="1.7" stroke-width="1.2" transform="rotate(-25 711.8 1240.9)"/>
<ellipse cx="721.8" cy="1236.5" rx="3.5" ry="1.7" stroke-width="1.2" transform="rotate(-25 721.8 1236.5)"/>
<text x="208.0" y="906.3">26</text>
<line x1="242.2" y1="910.3" x2="290.7" y2="974.9" stroke-width="2.2" />
<path d="M218,1071 L657.5,1323.3 Q662,1326 657,1330 L648,1332.5 Q640,1333 635.4,1332 L202,1083 Q197,1080 197.5,1077 Q198,1073 202,1072.4 L210,1071.6 L216.7,1070.7 Z" stroke-width="2.4" />
<line x1="210.7" y1="1073.9" x2="652.0" y2="1329.5" stroke-width="1.1" />
<line x1="203.0" y1="1074.8" x2="645.0" y2="1329.0" stroke-width="1.1" />
<ellipse cx="229.6" cy="1094.5" rx="2.4" ry="1.8" stroke-width="1.6" />
<ellipse cx="347.1" cy="1147.6" rx="2.4" ry="1.8" stroke-width="1.6" />
<ellipse cx="420.6" cy="1205.3" rx="2.4" ry="1.8" stroke-width="1.6" />
<ellipse cx="523.4" cy="1249.4" rx="2.4" ry="1.8" stroke-width="1.6" />
<ellipse cx="611.6" cy="1314.7" rx="2.4" ry="1.8" stroke-width="1.6" />
<text x="305.0" y="1286.5">26B</text>
<line x1="360.0" y1="1252.3" x2="396.7" y2="1201.6" stroke-width="2.2" />
<rect x="1106.1" y="936" width="158.7" height="205.5" stroke-width="3.6" stroke-linejoin="miter"/>
<path d="M1127.7,991.5 L1180.6,960.5 L1182,961 C1200,980 1213,1010 1217.2,1066.3 L1237.5,1077.6 L1239.7,1081 L1239.7,1097.8 L1182.9,1130.5 L1182.3,1109.1 L1180,1106 L1160.9,1099 C1155,1060 1145,1020 1127.7,991.5 Z" stroke-width="2.4" />
<path d="M1150.8,1006.7 L1154.2,998.8 L1176.7,985.3 L1183.4,985.9 L1186.2,988.7 L1185.7,1072 L1172.2,1079.8 C1170,1050 1165,1025 1150.8,1006.7 Z" stroke-width="2.4" />
<path d="M1196.9,1014.6 C1202,1030 1205,1045 1205.4,1060.7 L1197.5,1065.2 Z" stroke-width="2.0" />
<line x1="1194.0" y1="991.0" x2="1194.0" y2="1075.0" stroke-width="1.1" />
<line x1="1198.0" y1="990.0" x2="1197.5" y2="1078.0" stroke-width="1.1" />
<line x1="1186.5" y1="989.0" x2="1186.5" y2="1083.0" stroke-width="1.1" />
<path d="M1187,992 Q1193,986 1198,990" stroke-width="1.1" />
<line x1="1165.4" y1="1096.2" x2="1215.0" y2="1068.0" stroke-width="1.1" />
<line x1="1185.1" y1="1108.0" x2="1235.2" y2="1079.3" stroke-width="1.1" />
<text x="1214.0" y="979.5">52</text>
<path d="M193.0,1384.0 L412.0,1384.0 L649.0,1384.5 L961.5,1211.0 L1507.5,1211.0" stroke-width="3.4" />
<path d="M736.5,1450.4 L736.5,1534.6 Q737,1541 748.3,1544.2" stroke-width="2.4" />
<path d="M736.5,1450.4 L741.3,1446.7 L1006.3,1293.3" stroke-width="2.4" />
<line x1="745.1" y1="1454.0" x2="748.8" y2="1544.0" stroke-width="1.1" />
<line x1="741.3" y1="1446.7" x2="745.1" y2="1454.0" stroke-width="1.1" />
<line x1="745.6" y1="1454.1" x2="1006.3" y2="1304.6" stroke-width="1.1" />
<path d="M747.0,1448.0 L759.0,1441.0 L761.5,1443.0 L761.5,1448.0 L750.0,1455.0 L747.0,1453.0 Z" stroke-width="1.2" />
<line x1="751.0" y1="1451.0" x2="760.0" y2="1446.0" stroke-width="2.2" />
<path d="M935.0,1340.0 L947.0,1333.0 L950.0,1335.0 L950.0,1339.0 L938.0,1346.0 L935.0,1344.0 Z" stroke-width="1.1" />
<line x1="939.0" y1="1342.0" x2="948.0" y2="1337.0" stroke-width="2.0" />
<rect x="740" y="1455.3" width="3.5" height="4" fill="#000" stroke="none"/>
<rect x="740" y="1464.4" width="3.5" height="4" fill="#000" stroke="none"/>
<rect x="740" y="1528.9" width="3.5" height="4" fill="#000" stroke="none"/>
<line x1="720.0" y1="1544.2" x2="736.0" y2="1535.2" stroke-width="1.1" stroke-dasharray="6 5"/>
<path d="M1006.3,1293.3 L1042.3,1316.0 L1036.6,1325.5 L1038.5,1335.0 L1053.6,1344.5 L1258.0,1460.0 L1280.8,1472.3 L1282.7,1480.9 L1292.1,1488.4 L1295.9,1484.6 L1295.9,1469.5 L1304.5,1464.7 L1343.3,1488.4 L1341.0,1491.0 L1334.0,1494.0" stroke-width="2.2" />
<path d="M1055,1349 L1256,1463 Q1274,1474 1280,1487 Q1284,1492 1290,1490.4" stroke-width="1.1" />
<line x1="1304.5" y1="1468.0" x2="1335.7" y2="1490.3" stroke-width="1.1" />
<line x1="1006.3" y1="1304.6" x2="1010.0" y2="1393.7" stroke-width="1.1" />
<path d="M1005.0,1395.0 L1011.0,1390.0 L1011.5,1397.0 L1008.0,1399.0 Z" stroke-width="1.2" />
<line x1="1010.0" y1="1393.7" x2="752.0" y2="1543.7" stroke-width="1.1" />
<line x1="1010.0" y1="1393.7" x2="1248.5" y2="1532.0" stroke-width="1.1" />
<path d="M748.3,1544.2 L753.0,1547.4 L753.6,1549.5 L746.7,1553.3 L751.0,1556.5 L759.5,1556.0 L756.3,1559.7 L900.0,1642.0 L902.5,1639.0 L905.0,1643.5 L1040.2,1723.2 L1045.0,1720.5 L1049.0,1723.0 L1046.5,1727.0 L1050.0,1729.5 L1060.3,1726.2" stroke-width="2.0" />
<ellipse cx="772.8" cy="1546.9" rx="2.8" ry="2.4" stroke-width="1.6" />
<path d="M1233.0,1548.3 L1026.0,1435.0 Q1010,1429.0 994.0,1440.0 L826.6,1534.6 Q816.0,1546.9 826.6,1558.6 L1042.3,1680.8 Q1050,1684.0 1062,1682.7" stroke-width="1.1" />
<path d="M1231.0,1552.3 L1027.2,1439.0 Q1010,1433.0 998.0,1444.0 L830.6,1537.0 Q820.0,1546.9 830.6,1557.0 L1042.3,1676.8 Q1050,1680.0 1062,1678.7" stroke-width="1.1" />
<path d="M995.0,1465.1 Q994.0,1462.1 998.0,1459.1 L1006.0,1454.1 Q1010.0,1453.1 1012.0,1455.1 L1206.2,1560.6" stroke-width="1.2" />
<line x1="1012.0" y1="1456.4" x2="1206.2" y2="1562.9" stroke-width="1.1" />
<line x1="995.0" y1="1465.1" x2="1199.3" y2="1564.4" stroke-width="1.1" />
<path d="M1000.0,1459.6 L999.0,1462.1 L1002.0,1463.6 L1207.7,1562.8" stroke-width="1.1" />
<path d="M960.4,1485.2 Q959.4,1482.2 963.4,1479.2 L971.4,1474.2 Q975.4,1473.2 977.4,1475.2 L1170.3,1580.0" stroke-width="1.2" />
<line x1="977.4" y1="1476.5" x2="1170.3" y2="1582.3" stroke-width="1.1" />
<line x1="960.4" y1="1485.2" x2="1163.3" y2="1583.8" stroke-width="1.1" />
<path d="M965.4,1479.7 L964.4,1482.2 L967.4,1483.7 L1171.7,1582.2" stroke-width="1.1" />
<path d="M925.0,1505.2 Q924.0,1502.2 928.0,1499.2 L936.0,1494.2 Q940.0,1493.2 942.0,1495.2 L1134.1,1599.6" stroke-width="1.2" />
<line x1="942.0" y1="1496.5" x2="1134.1" y2="1601.9" stroke-width="1.1" />
<line x1="925.0" y1="1505.2" x2="1127.0" y2="1603.4" stroke-width="1.1" />
<path d="M930.0,1499.7 L929.0,1502.2 L932.0,1503.7 L1135.5,1601.8" stroke-width="1.1" />
<path d="M890.3,1525.2 Q889.3,1522.2 893.3,1519.2 L901.3,1514.2 Q905.3,1513.2 907.3,1515.2 L1098.2,1618.9" stroke-width="1.2" />
<line x1="907.3" y1="1516.5" x2="1098.2" y2="1621.2" stroke-width="1.1" />
<line x1="890.3" y1="1525.2" x2="1091.1" y2="1622.8" stroke-width="1.1" />
<path d="M895.3,1519.7 L894.3,1522.2 L897.3,1523.7 L1099.5,1621.2" stroke-width="1.1" />
<path d="M854.9,1545.2 Q853.9,1542.2 857.9,1539.2 L865.9,1534.2 Q869.9,1533.2 871.9,1535.2 L1062.0,1638.5" stroke-width="1.2" />
<line x1="871.9" y1="1536.5" x2="1062.0" y2="1640.8" stroke-width="1.1" />
<line x1="854.9" y1="1545.2" x2="1054.8" y2="1642.4" stroke-width="1.1" />
<path d="M859.9,1539.7 L858.9,1542.2 L861.9,1543.7 L1063.2,1640.8" stroke-width="1.1" />
<path d="M1065.6,1727.3 L1065.6,1639 L1071.3,1636.3 M1073.2,1645.8 L1073.2,1727 Q1072,1731 1068,1730 Q1065.6,1729.5 1065.6,1727.3" stroke-width="1.8" />
<line x1="1066.5" y1="1638.2" x2="1343.3" y2="1488.4" stroke-width="1.6" />
<line x1="1072.2" y1="1644.8" x2="1332.9" y2="1497.0" stroke-width="1.1" />
<line x1="1074.0" y1="1640.5" x2="1330.0" y2="1502.0" stroke-width="1.1" />
<line x1="1073.2" y1="1718.8" x2="1320.6" y2="1577.5" stroke-width="2.4" />
<path d="M1320.6,1577.5 L1330.0,1571.8 L1332.9,1497.0" stroke-width="1.8" />
<path d="M1315.0,1573.0 L1316.0,1566.0 L1319.0,1564.0 L1319.5,1572.0 Z" stroke-width="1.1" />
<ellipse cx="1069.4" cy="1647.0" rx="1.3" ry="1.6" stroke-width="1.3" />
<ellipse cx="1069.4" cy="1656.0" rx="1.3" ry="1.6" stroke-width="1.3" />
<ellipse cx="1069.4" cy="1721.0" rx="1.3" ry="1.6" stroke-width="1.3" />
<ellipse cx="1061.0" cy="1714.0" rx="2.0" ry="1.8" stroke-width="1.4" />
<path d="M1305.30,1405.10 L1310.10,1405.10 L1310.10,1432.00 L1303.90,1432.00 L1303.90,1414.90 L1301.00,1416.50 L1298.10,1417.10 L1298.10,1412.30 Z" fill="#000" stroke="none"/>
<line x1="1294.4" y1="1435.5" x2="1264.1" y2="1462.0" stroke-width="2.2" />
<path d="M524.0,1463.2 L860.0,1655.0 L868.4,1667.2 L868.9,1863.9 L862.8,1867.6 L525.2,1680.5 L525.2,1672.0 L520.4,1672.0 L520.4,1664.7 L513.8,1659.9 L513.8,1477.2 L518.0,1466.0 L524.0,1463.2" stroke-width="2.4" />
<line x1="526.0" y1="1467.0" x2="858.0" y2="1658.5" stroke-width="1.1" />
<path d="M539,1488 Q540,1484 545,1486 L856,1665 Q862,1670 861,1676 L861,1860" stroke-width="1.1" />
<path d="M543,1489 L543,1650 Q543,1664 556,1670 L842,1830 Q850,1832 850.7,1825 L850.7,1680 Q850,1665 840,1660 L558,1496 Q550,1490 543,1489" stroke-width="1.1" />
<path d="M549.5,1490 L549.5,1650 Q549.5,1660 560.4,1667" stroke-width="1.1" />
<path d="M522.4,1467 L522.4,1666 Q522.8,1671 527.4,1671.4 L858,1861" stroke-width="1.1" />
<line x1="522.8" y1="1468.0" x2="553.9" y2="1486.5" stroke-width="1.1" />
<line x1="533.0" y1="1662.0" x2="540.0" y2="1658.0" stroke-width="1.1" />
<ellipse cx="532.0" cy="1588.0" rx="1.8" ry="1.5" stroke-width="1.4" />
<ellipse cx="532.0" cy="1596.0" rx="1.8" ry="1.5" stroke-width="1.4" />
<ellipse cx="532.0" cy="1650.0" rx="1.8" ry="1.5" stroke-width="1.4" />
<ellipse cx="532.0" cy="1658.0" rx="1.8" ry="1.5" stroke-width="1.4" />
<ellipse cx="547.0" cy="1686.0" rx="1.8" ry="1.5" stroke-width="1.4" />
<ellipse cx="588.0" cy="1700.0" rx="1.8" ry="1.5" stroke-width="1.4" />
<ellipse cx="695.0" cy="1763.0" rx="1.8" ry="1.5" stroke-width="1.4" />
<ellipse cx="690.0" cy="1770.0" rx="1.8" ry="1.5" stroke-width="1.4" />
<ellipse cx="802.0" cy="1838.0" rx="1.8" ry="1.5" stroke-width="1.4" />
<ellipse cx="835.0" cy="1853.0" rx="1.8" ry="1.5" stroke-width="1.4" />
<ellipse cx="858.0" cy="1770.0" rx="1.8" ry="1.5" stroke-width="1.4" />
<ellipse cx="859.0" cy="1780.0" rx="1.8" ry="1.5" stroke-width="1.4" />
<ellipse cx="858.0" cy="1850.0" rx="1.8" ry="1.5" stroke-width="1.4" />
<ellipse cx="859.0" cy="1856.0" rx="1.8" ry="1.5" stroke-width="1.4" />
<line x1="560.4" y1="1751.0" x2="689.2" y2="1678.0" stroke-width="1.1" stroke-dasharray="6 5"/>
<line x1="692.8" y1="1560.3" x2="732.9" y2="1538.4" stroke-width="1.1" stroke-dasharray="6 5"/>
<line x1="870.0" y1="1834.1" x2="1049.5" y2="1732.4" stroke-width="1.1" stroke-dasharray="6 5"/>
<text x="598.0" y="1438.0">2</text>
<line x1="594.4" y1="1447.4" x2="577.4" y2="1491.1" stroke-width="2.2" />
<path d="M246.5,1589.8 Q247,1582 261.2,1580.4 L705.7,1836 Q715.2,1842 715.2,1850 L715.2,2051.8 L699.8,2058.3 L255,1801.8 Q246.5,1797 246.5,1790 Z" stroke-width="2.6" />
<path d="M250.2,1591.4 L696.3,1847.3 Q702.8,1851 702.8,1857 L702.8,2051 L699.8,2058" stroke-width="1.1" />
<path d="M225.1,1627.5 L248.7,1641.6 L266,1658.9 L269,1668.3 C330,1720 450,1790 590.9,1852 L614.4,1855.1 L632.3,1862 L652.4,1873.9 L653.6,1894.6 L648.3,1898.2 C540,1875 400,1800 231.4,1657.3 C216,1645 213,1633 218.8,1629.1 Q221,1627 225.1,1627.5 Z" stroke-width="2.6" />
<path d="M248.7,1641.6 C252,1650 252,1660 262,1672 C350,1740 480,1820 632,1862" stroke-width="1.1" />
<ellipse cx="259.6" cy="1618.5" rx="1.8" ry="1.8" stroke-width="1.5" fill="#000"/>
<ellipse cx="282.5" cy="1633.8" rx="1.8" ry="1.8" stroke-width="1.5" fill="#000"/>
<ellipse cx="650.6" cy="1842.5" rx="1.8" ry="1.8" stroke-width="1.5" fill="#000"/>
<ellipse cx="676.1" cy="1857.3" rx="1.8" ry="1.8" stroke-width="1.5" fill="#000"/>
<line x1="241.0" y1="1630.0" x2="259.6" y2="1618.5" stroke-width="1.1" stroke-dasharray="6 5"/>
<line x1="652.7" y1="1872.4" x2="677.0" y2="1857.8" stroke-width="1.1" stroke-dasharray="6 5"/>
<line x1="704.0" y1="1848.0" x2="708.0" y2="1845.0" stroke-width="1.1" />
<line x1="704.0" y1="1853.0" x2="709.0" y2="1850.0" stroke-width="1.1" />
<text x="274.0" y="1912.0">39</text>
<line x1="313.0" y1="1880.3" x2="374.3" y2="1781.3" stroke-width="2.2" />
<text x="429.0" y="2003.0">4</text>
<line x1="438.6" y1="1968.2" x2="448.0" y2="1914.8" stroke-width="2.2" />
<circle cx="1296.7" cy="1744.4" r="92.6" stroke-width="3.4"/>
<path d="M1320.2,1575.4 L1434.9,1640.1 L1369.5,1683.2" stroke-width="3.4" />
<g transform="translate(1255,1670) scale(0.05924)" stroke-width="20">
<path d="M830,145 L720,145 C560,200 380,320 270,500 C170,680 130,900 150,1100 C170,1250 230,1320 320,1325 C400,1320 470,1270 520,1215 M830,145 C840,180 840,230 825,300 C780,430 700,570 665,700 L665,760 M790,190 L740,195 C600,250 480,360 410,520 C360,650 345,800 345,1000 L345,1290 M330,530 C290,580 260,640 245,760 C225,880 225,960 230,1020 C240,1045 260,1045 275,1010 C290,900 300,780 315,660 M395,900 C470,860 540,800 640,765 L680,765 L780,800 M395,900 L395,1155 L600,1250 M395,910 L590,1000 M600,905 L600,1460 M600,1545 L600,1790 M665,985 L665,1860 M600,905 L630,895 L800,800 M630,905 L900,1040 L1530,680 L1265,530 L800,790 M900,1040 L900,1370 M1530,680 L1530,1090 C1500,1150 1460,1200 1440,1240 C1400,1300 1350,1340 1340,1360 L1340,1390 L1140,1390 L1140,1370 L840,1370 M665,985 L830,1075 L830,1370 M1470,1230 L1590,1300 L1590,1370 L970,1720 L970,1640 L1590,1300 M640,1470 L970,1640 M690,1470 L840,1380 M645,1545 L910,1700 L680,1850 M310,1630 L600,1460 M310,1630 L310,1710 L650,1870 L680,1850 M330,1650 L600,1790"/>
</g>
<text x="1263.0" y="1820.0">7</text>
</g></svg></body></html>
